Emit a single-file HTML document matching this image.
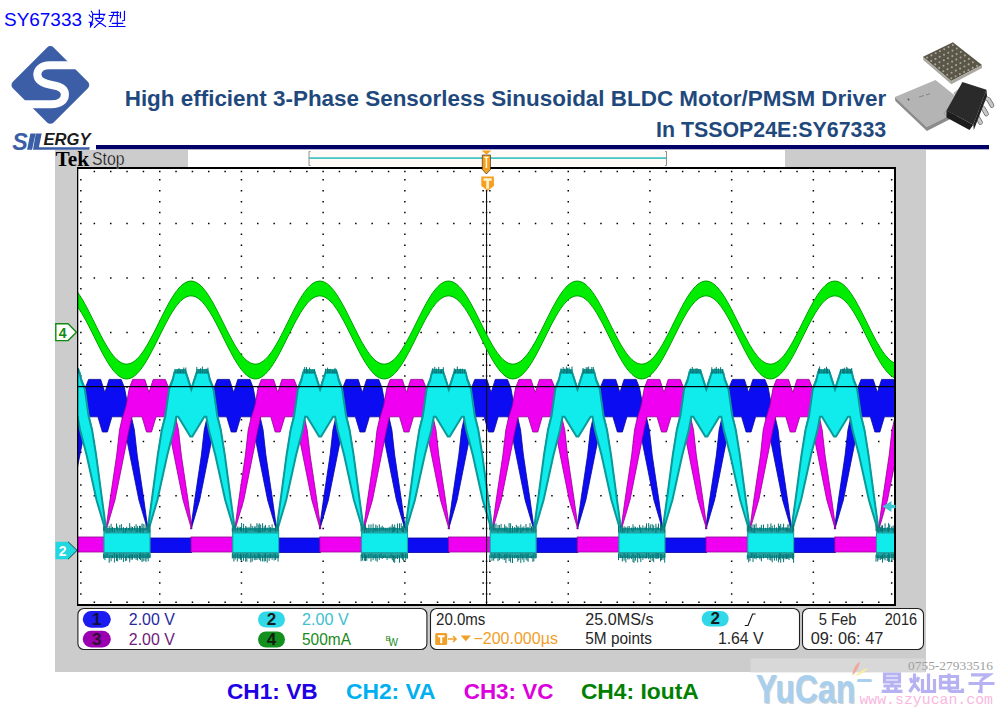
<!DOCTYPE html>
<html><head><meta charset="utf-8">
<style>
html,body{margin:0;padding:0;background:#fff;}
body{width:1003px;height:711px;position:relative;overflow:hidden;}
svg{position:absolute;left:0;top:0;display:block;}
text{font-family:"Liberation Sans",sans-serif;white-space:pre;}
.tk{font-family:"Liberation Sans",sans-serif;font-size:15.5px;}
.ser{font-family:"Liberation Serif",serif;}
.mono{font-family:"Liberation Mono",monospace;}
</style></head><body>
<svg width="1003" height="711" viewBox="0 0 1003 711">
<defs><clipPath id="gc"><rect x="78" y="168" width="817" height="437"/></clipPath></defs>
<!-- header text -->
<text x="4" y="25.8" font-size="18.8" fill="#0000ff" textLength="78" lengthAdjust="spacingAndGlyphs">SY67333</text>
<g transform="translate(85,5) scale(0.04484)" fill="none" stroke="#0000ff" stroke-width="26" stroke-linecap="square"><path d="M140 140L170 185M95 225L140 270M95 385H150M125 385V470L175 420"/><path d="M170 210H440L420 240M320 115V300M170 210V330L120 490M230 300H410L390 330M245 330L460 478M405 320L210 500"/><path d="M590 165H740M540 235H750M650 165L565 370M720 150V330M790 165V280M880 140V340L840 350M610 410H840M720 340V480M540 480H890"/></g>
<!-- logo -->
<g transform="translate(10,44) scale(0.11534)">
  <rect x="100" y="105" width="500" height="500" rx="40" transform="rotate(45 350 355)" fill="#3b5ea6"/>
  <path d="M 640,185 L 345,185 C 270,185 237,225 237,265 C 237,322 292,345 372,358 C 442,370 476,397 476,437 C 476,490 430,522 360,522 L 60,522" fill="none" stroke="#fff" stroke-width="70"/>
</g>
<text x="12.3" y="149.9" font-size="23.5" font-weight="bold" font-style="italic" fill="#3b5ea6" textLength="15.5" lengthAdjust="spacingAndGlyphs">S</text>
<path d="M30.4 133.6h5.2l-3.5 16.2h-5z" fill="#3b5ea6"/>
<path d="M35.8 133.6 L41.7 133.6 L38.9 147.2 L89.8 147.2 L89.3 149.8 L33 149.8 Z" fill="#3b5ea6"/>
<text x="43.5" y="144.9" font-size="15.6" font-weight="bold" font-style="italic" fill="#1a1a1a" textLength="47" lengthAdjust="spacingAndGlyphs">ERGY</text>
<!-- title -->
<text x="124.7" y="105.9" font-size="21.6" font-weight="bold" fill="#1f497d" textLength="761.5" lengthAdjust="spacingAndGlyphs">High efficient 3-Phase Sensorless Sinusoidal BLDC Motor/PMSM Driver</text>
<text x="656" y="136.5" font-size="21.6" font-weight="bold" fill="#1f497d" textLength="230.2" lengthAdjust="spacingAndGlyphs">In TSSOP24E:SY67333</text>
<rect x="96" y="145" width="893" height="4.3" fill="#000066"/>
<path d="M923 56.8L952.9 42.3L982 64.9L951.2 81Z" fill="#5a5648"/><path d="M923 56.8L923.3 60L951.4 84.3L982 68L982 64.9L951.2 81Z" fill="#a8a8a0"/><circle cx="927.1" cy="57.5" r="1.05" fill="#aaa596"/><circle cx="931.2" cy="60.9" r="1.05" fill="#aaa596"/><circle cx="935.2" cy="64.4" r="1.05" fill="#aaa596"/><circle cx="939.2" cy="67.9" r="1.05" fill="#aaa596"/><circle cx="943.3" cy="71.3" r="1.05" fill="#aaa596"/><circle cx="947.3" cy="74.8" r="1.05" fill="#aaa596"/><circle cx="951.3" cy="78.2" r="1.05" fill="#aaa596"/><circle cx="931.4" cy="55.4" r="1.05" fill="#aaa596"/><circle cx="935.5" cy="58.9" r="1.05" fill="#aaa596"/><circle cx="939.5" cy="62.3" r="1.05" fill="#aaa596"/><circle cx="943.5" cy="65.8" r="1.05" fill="#aaa596"/><circle cx="947.5" cy="69.2" r="1.05" fill="#aaa596"/><circle cx="951.6" cy="72.7" r="1.05" fill="#aaa596"/><circle cx="955.6" cy="76.2" r="1.05" fill="#aaa596"/><circle cx="935.7" cy="53.3" r="1.05" fill="#aaa596"/><circle cx="939.7" cy="56.8" r="1.05" fill="#aaa596"/><circle cx="943.8" cy="60.3" r="1.05" fill="#aaa596"/><circle cx="947.8" cy="63.7" r="1.05" fill="#aaa596"/><circle cx="951.8" cy="67.2" r="1.05" fill="#aaa596"/><circle cx="955.8" cy="70.6" r="1.05" fill="#aaa596"/><circle cx="959.9" cy="74.1" r="1.05" fill="#aaa596"/><circle cx="940.0" cy="51.3" r="1.05" fill="#aaa596"/><circle cx="944.0" cy="54.7" r="1.05" fill="#aaa596"/><circle cx="948.0" cy="58.2" r="1.05" fill="#aaa596"/><circle cx="952.1" cy="61.6" r="1.05" fill="#aaa596"/><circle cx="956.1" cy="65.1" r="1.05" fill="#aaa596"/><circle cx="960.1" cy="68.6" r="1.05" fill="#aaa596"/><circle cx="964.1" cy="72.0" r="1.05" fill="#aaa596"/><circle cx="944.2" cy="49.2" r="1.05" fill="#aaa596"/><circle cx="948.3" cy="52.7" r="1.05" fill="#aaa596"/><circle cx="952.3" cy="56.1" r="1.05" fill="#aaa596"/><circle cx="956.3" cy="59.6" r="1.05" fill="#aaa596"/><circle cx="960.4" cy="63.0" r="1.05" fill="#aaa596"/><circle cx="964.4" cy="66.5" r="1.05" fill="#aaa596"/><circle cx="968.4" cy="70.0" r="1.05" fill="#aaa596"/><circle cx="948.5" cy="47.1" r="1.05" fill="#aaa596"/><circle cx="952.5" cy="50.6" r="1.05" fill="#aaa596"/><circle cx="956.6" cy="54.1" r="1.05" fill="#aaa596"/><circle cx="960.6" cy="57.5" r="1.05" fill="#aaa596"/><circle cx="964.6" cy="61.0" r="1.05" fill="#aaa596"/><circle cx="968.6" cy="64.4" r="1.05" fill="#aaa596"/><circle cx="972.7" cy="67.9" r="1.05" fill="#aaa596"/><circle cx="952.8" cy="45.1" r="1.05" fill="#aaa596"/><circle cx="956.8" cy="48.5" r="1.05" fill="#aaa596"/><circle cx="960.8" cy="52.0" r="1.05" fill="#aaa596"/><circle cx="964.9" cy="55.4" r="1.05" fill="#aaa596"/><circle cx="968.9" cy="58.9" r="1.05" fill="#aaa596"/><circle cx="972.9" cy="62.3" r="1.05" fill="#aaa596"/><circle cx="977.0" cy="65.8" r="1.05" fill="#aaa596"/><path d="M894.9 96.9L935.5 79.9L968 106L926.7 127Z" fill="#b4b4b4"/><path d="M894.9 96.9L895.3 101L926.9 131L968 110L968 106L926.7 127Z" fill="#8c8c8c"/><circle cx="908.5" cy="99.5" r="0.9" fill="#555"/><path d="M919 97l5 -1.5M926 95l4 -1.2" stroke="#777" stroke-width="0.8"/><g fill="none" stroke-linecap="round" stroke-linejoin="round"><path d="M982.5 96.5L988.5 99.5L992 105.5M977 105L983 108L986.5 114M971 113.5L977 116.5L980.5 122.5" stroke="#6a6a6a" stroke-width="4.6"/><path d="M982.5 96.5L988.5 99.5L992 105.5M977 105L983 108L986.5 114M971 113.5L977 116.5L980.5 122.5" stroke="#c8c8c8" stroke-width="3.2"/></g><path d="M949 109l-5 4l1.5 2.5l5 -2z M959 89l-5 4l1.5 2.5l5 -2z" fill="#b8b8b8" stroke="#888" stroke-width="0.5"/><path d="M962.4 82L986.5 89.7L973.3 124.8L946.5 110.6Z" fill="#2a2a2a"/><path d="M946.5 110.6L946.5 117.5L969.5 130L973.3 124.8Z" fill="#1c1c1c"/><path d="M986.5 89.7L987 96L973.8 130L973.3 124.8Z" fill="#222"/>
<rect x="55" y="150" width="871" height="522" fill="#cccccc"/>
<rect x="188" y="150" width="597" height="17" fill="#fff"/>
<rect x="77" y="167" width="819" height="439" fill="#fff"/>
<path d="M159.0 179.1h1.5v1.5h-1.5zM159.0 190.0h1.5v1.5h-1.5zM159.0 200.9h1.5v1.5h-1.5zM159.0 211.8h1.5v1.5h-1.5zM159.0 222.7h1.5v1.5h-1.5zM159.0 233.6h1.5v1.5h-1.5zM159.0 244.5h1.5v1.5h-1.5zM159.0 255.4h1.5v1.5h-1.5zM159.0 266.3h1.5v1.5h-1.5zM159.0 277.2h1.5v1.5h-1.5zM159.0 288.1h1.5v1.5h-1.5zM159.0 299.0h1.5v1.5h-1.5zM159.0 309.9h1.5v1.5h-1.5zM159.0 320.8h1.5v1.5h-1.5zM159.0 331.7h1.5v1.5h-1.5zM159.0 342.6h1.5v1.5h-1.5zM159.0 353.5h1.5v1.5h-1.5zM159.0 364.4h1.5v1.5h-1.5zM159.0 375.3h1.5v1.5h-1.5zM159.0 386.2h1.5v1.5h-1.5zM159.0 397.1h1.5v1.5h-1.5zM159.0 408.0h1.5v1.5h-1.5zM159.0 418.9h1.5v1.5h-1.5zM159.0 429.8h1.5v1.5h-1.5zM159.0 440.7h1.5v1.5h-1.5zM159.0 451.5h1.5v1.5h-1.5zM159.0 462.4h1.5v1.5h-1.5zM159.0 473.3h1.5v1.5h-1.5zM159.0 484.2h1.5v1.5h-1.5zM159.0 495.1h1.5v1.5h-1.5zM159.0 506.0h1.5v1.5h-1.5zM159.0 516.9h1.5v1.5h-1.5zM159.0 527.8h1.5v1.5h-1.5zM159.0 538.7h1.5v1.5h-1.5zM159.0 549.6h1.5v1.5h-1.5zM159.0 560.5h1.5v1.5h-1.5zM159.0 571.4h1.5v1.5h-1.5zM159.0 582.3h1.5v1.5h-1.5zM159.0 593.2h1.5v1.5h-1.5zM240.7 179.1h1.5v1.5h-1.5zM240.7 190.0h1.5v1.5h-1.5zM240.7 200.9h1.5v1.5h-1.5zM240.7 211.8h1.5v1.5h-1.5zM240.7 222.7h1.5v1.5h-1.5zM240.7 233.6h1.5v1.5h-1.5zM240.7 244.5h1.5v1.5h-1.5zM240.7 255.4h1.5v1.5h-1.5zM240.7 266.3h1.5v1.5h-1.5zM240.7 277.2h1.5v1.5h-1.5zM240.7 288.1h1.5v1.5h-1.5zM240.7 299.0h1.5v1.5h-1.5zM240.7 309.9h1.5v1.5h-1.5zM240.7 320.8h1.5v1.5h-1.5zM240.7 331.7h1.5v1.5h-1.5zM240.7 342.6h1.5v1.5h-1.5zM240.7 353.5h1.5v1.5h-1.5zM240.7 364.4h1.5v1.5h-1.5zM240.7 375.3h1.5v1.5h-1.5zM240.7 386.2h1.5v1.5h-1.5zM240.7 397.1h1.5v1.5h-1.5zM240.7 408.0h1.5v1.5h-1.5zM240.7 418.9h1.5v1.5h-1.5zM240.7 429.8h1.5v1.5h-1.5zM240.7 440.7h1.5v1.5h-1.5zM240.7 451.5h1.5v1.5h-1.5zM240.7 462.4h1.5v1.5h-1.5zM240.7 473.3h1.5v1.5h-1.5zM240.7 484.2h1.5v1.5h-1.5zM240.7 495.1h1.5v1.5h-1.5zM240.7 506.0h1.5v1.5h-1.5zM240.7 516.9h1.5v1.5h-1.5zM240.7 527.8h1.5v1.5h-1.5zM240.7 538.7h1.5v1.5h-1.5zM240.7 549.6h1.5v1.5h-1.5zM240.7 560.5h1.5v1.5h-1.5zM240.7 571.4h1.5v1.5h-1.5zM240.7 582.3h1.5v1.5h-1.5zM240.7 593.2h1.5v1.5h-1.5zM322.4 179.1h1.5v1.5h-1.5zM322.4 190.0h1.5v1.5h-1.5zM322.4 200.9h1.5v1.5h-1.5zM322.4 211.8h1.5v1.5h-1.5zM322.4 222.7h1.5v1.5h-1.5zM322.4 233.6h1.5v1.5h-1.5zM322.4 244.5h1.5v1.5h-1.5zM322.4 255.4h1.5v1.5h-1.5zM322.4 266.3h1.5v1.5h-1.5zM322.4 277.2h1.5v1.5h-1.5zM322.4 288.1h1.5v1.5h-1.5zM322.4 299.0h1.5v1.5h-1.5zM322.4 309.9h1.5v1.5h-1.5zM322.4 320.8h1.5v1.5h-1.5zM322.4 331.7h1.5v1.5h-1.5zM322.4 342.6h1.5v1.5h-1.5zM322.4 353.5h1.5v1.5h-1.5zM322.4 364.4h1.5v1.5h-1.5zM322.4 375.3h1.5v1.5h-1.5zM322.4 386.2h1.5v1.5h-1.5zM322.4 397.1h1.5v1.5h-1.5zM322.4 408.0h1.5v1.5h-1.5zM322.4 418.9h1.5v1.5h-1.5zM322.4 429.8h1.5v1.5h-1.5zM322.4 440.7h1.5v1.5h-1.5zM322.4 451.5h1.5v1.5h-1.5zM322.4 462.4h1.5v1.5h-1.5zM322.4 473.3h1.5v1.5h-1.5zM322.4 484.2h1.5v1.5h-1.5zM322.4 495.1h1.5v1.5h-1.5zM322.4 506.0h1.5v1.5h-1.5zM322.4 516.9h1.5v1.5h-1.5zM322.4 527.8h1.5v1.5h-1.5zM322.4 538.7h1.5v1.5h-1.5zM322.4 549.6h1.5v1.5h-1.5zM322.4 560.5h1.5v1.5h-1.5zM322.4 571.4h1.5v1.5h-1.5zM322.4 582.3h1.5v1.5h-1.5zM322.4 593.2h1.5v1.5h-1.5zM404.1 179.1h1.5v1.5h-1.5zM404.1 190.0h1.5v1.5h-1.5zM404.1 200.9h1.5v1.5h-1.5zM404.1 211.8h1.5v1.5h-1.5zM404.1 222.7h1.5v1.5h-1.5zM404.1 233.6h1.5v1.5h-1.5zM404.1 244.5h1.5v1.5h-1.5zM404.1 255.4h1.5v1.5h-1.5zM404.1 266.3h1.5v1.5h-1.5zM404.1 277.2h1.5v1.5h-1.5zM404.1 288.1h1.5v1.5h-1.5zM404.1 299.0h1.5v1.5h-1.5zM404.1 309.9h1.5v1.5h-1.5zM404.1 320.8h1.5v1.5h-1.5zM404.1 331.7h1.5v1.5h-1.5zM404.1 342.6h1.5v1.5h-1.5zM404.1 353.5h1.5v1.5h-1.5zM404.1 364.4h1.5v1.5h-1.5zM404.1 375.3h1.5v1.5h-1.5zM404.1 386.2h1.5v1.5h-1.5zM404.1 397.1h1.5v1.5h-1.5zM404.1 408.0h1.5v1.5h-1.5zM404.1 418.9h1.5v1.5h-1.5zM404.1 429.8h1.5v1.5h-1.5zM404.1 440.7h1.5v1.5h-1.5zM404.1 451.5h1.5v1.5h-1.5zM404.1 462.4h1.5v1.5h-1.5zM404.1 473.3h1.5v1.5h-1.5zM404.1 484.2h1.5v1.5h-1.5zM404.1 495.1h1.5v1.5h-1.5zM404.1 506.0h1.5v1.5h-1.5zM404.1 516.9h1.5v1.5h-1.5zM404.1 527.8h1.5v1.5h-1.5zM404.1 538.7h1.5v1.5h-1.5zM404.1 549.6h1.5v1.5h-1.5zM404.1 560.5h1.5v1.5h-1.5zM404.1 571.4h1.5v1.5h-1.5zM404.1 582.3h1.5v1.5h-1.5zM404.1 593.2h1.5v1.5h-1.5zM485.8 179.1h1.5v1.5h-1.5zM485.8 190.0h1.5v1.5h-1.5zM485.8 200.9h1.5v1.5h-1.5zM485.8 211.8h1.5v1.5h-1.5zM485.8 222.7h1.5v1.5h-1.5zM485.8 233.6h1.5v1.5h-1.5zM485.8 244.5h1.5v1.5h-1.5zM485.8 255.4h1.5v1.5h-1.5zM485.8 266.3h1.5v1.5h-1.5zM485.8 277.2h1.5v1.5h-1.5zM485.8 288.1h1.5v1.5h-1.5zM485.8 299.0h1.5v1.5h-1.5zM485.8 309.9h1.5v1.5h-1.5zM485.8 320.8h1.5v1.5h-1.5zM485.8 331.7h1.5v1.5h-1.5zM485.8 342.6h1.5v1.5h-1.5zM485.8 353.5h1.5v1.5h-1.5zM485.8 364.4h1.5v1.5h-1.5zM485.8 375.3h1.5v1.5h-1.5zM485.8 386.2h1.5v1.5h-1.5zM485.8 397.1h1.5v1.5h-1.5zM485.8 408.0h1.5v1.5h-1.5zM485.8 418.9h1.5v1.5h-1.5zM485.8 429.8h1.5v1.5h-1.5zM485.8 440.7h1.5v1.5h-1.5zM485.8 451.5h1.5v1.5h-1.5zM485.8 462.4h1.5v1.5h-1.5zM485.8 473.3h1.5v1.5h-1.5zM485.8 484.2h1.5v1.5h-1.5zM485.8 495.1h1.5v1.5h-1.5zM485.8 506.0h1.5v1.5h-1.5zM485.8 516.9h1.5v1.5h-1.5zM485.8 527.8h1.5v1.5h-1.5zM485.8 538.7h1.5v1.5h-1.5zM485.8 549.6h1.5v1.5h-1.5zM485.8 560.5h1.5v1.5h-1.5zM485.8 571.4h1.5v1.5h-1.5zM485.8 582.3h1.5v1.5h-1.5zM485.8 593.2h1.5v1.5h-1.5zM567.5 179.1h1.5v1.5h-1.5zM567.5 190.0h1.5v1.5h-1.5zM567.5 200.9h1.5v1.5h-1.5zM567.5 211.8h1.5v1.5h-1.5zM567.5 222.7h1.5v1.5h-1.5zM567.5 233.6h1.5v1.5h-1.5zM567.5 244.5h1.5v1.5h-1.5zM567.5 255.4h1.5v1.5h-1.5zM567.5 266.3h1.5v1.5h-1.5zM567.5 277.2h1.5v1.5h-1.5zM567.5 288.1h1.5v1.5h-1.5zM567.5 299.0h1.5v1.5h-1.5zM567.5 309.9h1.5v1.5h-1.5zM567.5 320.8h1.5v1.5h-1.5zM567.5 331.7h1.5v1.5h-1.5zM567.5 342.6h1.5v1.5h-1.5zM567.5 353.5h1.5v1.5h-1.5zM567.5 364.4h1.5v1.5h-1.5zM567.5 375.3h1.5v1.5h-1.5zM567.5 386.2h1.5v1.5h-1.5zM567.5 397.1h1.5v1.5h-1.5zM567.5 408.0h1.5v1.5h-1.5zM567.5 418.9h1.5v1.5h-1.5zM567.5 429.8h1.5v1.5h-1.5zM567.5 440.7h1.5v1.5h-1.5zM567.5 451.5h1.5v1.5h-1.5zM567.5 462.4h1.5v1.5h-1.5zM567.5 473.3h1.5v1.5h-1.5zM567.5 484.2h1.5v1.5h-1.5zM567.5 495.1h1.5v1.5h-1.5zM567.5 506.0h1.5v1.5h-1.5zM567.5 516.9h1.5v1.5h-1.5zM567.5 527.8h1.5v1.5h-1.5zM567.5 538.7h1.5v1.5h-1.5zM567.5 549.6h1.5v1.5h-1.5zM567.5 560.5h1.5v1.5h-1.5zM567.5 571.4h1.5v1.5h-1.5zM567.5 582.3h1.5v1.5h-1.5zM567.5 593.2h1.5v1.5h-1.5zM649.2 179.1h1.5v1.5h-1.5zM649.2 190.0h1.5v1.5h-1.5zM649.2 200.9h1.5v1.5h-1.5zM649.2 211.8h1.5v1.5h-1.5zM649.2 222.7h1.5v1.5h-1.5zM649.2 233.6h1.5v1.5h-1.5zM649.2 244.5h1.5v1.5h-1.5zM649.2 255.4h1.5v1.5h-1.5zM649.2 266.3h1.5v1.5h-1.5zM649.2 277.2h1.5v1.5h-1.5zM649.2 288.1h1.5v1.5h-1.5zM649.2 299.0h1.5v1.5h-1.5zM649.2 309.9h1.5v1.5h-1.5zM649.2 320.8h1.5v1.5h-1.5zM649.2 331.7h1.5v1.5h-1.5zM649.2 342.6h1.5v1.5h-1.5zM649.2 353.5h1.5v1.5h-1.5zM649.2 364.4h1.5v1.5h-1.5zM649.2 375.3h1.5v1.5h-1.5zM649.2 386.2h1.5v1.5h-1.5zM649.2 397.1h1.5v1.5h-1.5zM649.2 408.0h1.5v1.5h-1.5zM649.2 418.9h1.5v1.5h-1.5zM649.2 429.8h1.5v1.5h-1.5zM649.2 440.7h1.5v1.5h-1.5zM649.2 451.5h1.5v1.5h-1.5zM649.2 462.4h1.5v1.5h-1.5zM649.2 473.3h1.5v1.5h-1.5zM649.2 484.2h1.5v1.5h-1.5zM649.2 495.1h1.5v1.5h-1.5zM649.2 506.0h1.5v1.5h-1.5zM649.2 516.9h1.5v1.5h-1.5zM649.2 527.8h1.5v1.5h-1.5zM649.2 538.7h1.5v1.5h-1.5zM649.2 549.6h1.5v1.5h-1.5zM649.2 560.5h1.5v1.5h-1.5zM649.2 571.4h1.5v1.5h-1.5zM649.2 582.3h1.5v1.5h-1.5zM649.2 593.2h1.5v1.5h-1.5zM730.9 179.1h1.5v1.5h-1.5zM730.9 190.0h1.5v1.5h-1.5zM730.9 200.9h1.5v1.5h-1.5zM730.9 211.8h1.5v1.5h-1.5zM730.9 222.7h1.5v1.5h-1.5zM730.9 233.6h1.5v1.5h-1.5zM730.9 244.5h1.5v1.5h-1.5zM730.9 255.4h1.5v1.5h-1.5zM730.9 266.3h1.5v1.5h-1.5zM730.9 277.2h1.5v1.5h-1.5zM730.9 288.1h1.5v1.5h-1.5zM730.9 299.0h1.5v1.5h-1.5zM730.9 309.9h1.5v1.5h-1.5zM730.9 320.8h1.5v1.5h-1.5zM730.9 331.7h1.5v1.5h-1.5zM730.9 342.6h1.5v1.5h-1.5zM730.9 353.5h1.5v1.5h-1.5zM730.9 364.4h1.5v1.5h-1.5zM730.9 375.3h1.5v1.5h-1.5zM730.9 386.2h1.5v1.5h-1.5zM730.9 397.1h1.5v1.5h-1.5zM730.9 408.0h1.5v1.5h-1.5zM730.9 418.9h1.5v1.5h-1.5zM730.9 429.8h1.5v1.5h-1.5zM730.9 440.7h1.5v1.5h-1.5zM730.9 451.5h1.5v1.5h-1.5zM730.9 462.4h1.5v1.5h-1.5zM730.9 473.3h1.5v1.5h-1.5zM730.9 484.2h1.5v1.5h-1.5zM730.9 495.1h1.5v1.5h-1.5zM730.9 506.0h1.5v1.5h-1.5zM730.9 516.9h1.5v1.5h-1.5zM730.9 527.8h1.5v1.5h-1.5zM730.9 538.7h1.5v1.5h-1.5zM730.9 549.6h1.5v1.5h-1.5zM730.9 560.5h1.5v1.5h-1.5zM730.9 571.4h1.5v1.5h-1.5zM730.9 582.3h1.5v1.5h-1.5zM730.9 593.2h1.5v1.5h-1.5zM812.6 179.1h1.5v1.5h-1.5zM812.6 190.0h1.5v1.5h-1.5zM812.6 200.9h1.5v1.5h-1.5zM812.6 211.8h1.5v1.5h-1.5zM812.6 222.7h1.5v1.5h-1.5zM812.6 233.6h1.5v1.5h-1.5zM812.6 244.5h1.5v1.5h-1.5zM812.6 255.4h1.5v1.5h-1.5zM812.6 266.3h1.5v1.5h-1.5zM812.6 277.2h1.5v1.5h-1.5zM812.6 288.1h1.5v1.5h-1.5zM812.6 299.0h1.5v1.5h-1.5zM812.6 309.9h1.5v1.5h-1.5zM812.6 320.8h1.5v1.5h-1.5zM812.6 331.7h1.5v1.5h-1.5zM812.6 342.6h1.5v1.5h-1.5zM812.6 353.5h1.5v1.5h-1.5zM812.6 364.4h1.5v1.5h-1.5zM812.6 375.3h1.5v1.5h-1.5zM812.6 386.2h1.5v1.5h-1.5zM812.6 397.1h1.5v1.5h-1.5zM812.6 408.0h1.5v1.5h-1.5zM812.6 418.9h1.5v1.5h-1.5zM812.6 429.8h1.5v1.5h-1.5zM812.6 440.7h1.5v1.5h-1.5zM812.6 451.5h1.5v1.5h-1.5zM812.6 462.4h1.5v1.5h-1.5zM812.6 473.3h1.5v1.5h-1.5zM812.6 484.2h1.5v1.5h-1.5zM812.6 495.1h1.5v1.5h-1.5zM812.6 506.0h1.5v1.5h-1.5zM812.6 516.9h1.5v1.5h-1.5zM812.6 527.8h1.5v1.5h-1.5zM812.6 538.7h1.5v1.5h-1.5zM812.6 549.6h1.5v1.5h-1.5zM812.6 560.5h1.5v1.5h-1.5zM812.6 571.4h1.5v1.5h-1.5zM812.6 582.3h1.5v1.5h-1.5zM812.6 593.2h1.5v1.5h-1.5zM93.6 222.7h1.5v1.5h-1.5zM110.0 222.7h1.5v1.5h-1.5zM126.3 222.7h1.5v1.5h-1.5zM142.7 222.7h1.5v1.5h-1.5zM159.0 222.7h1.5v1.5h-1.5zM175.3 222.7h1.5v1.5h-1.5zM191.7 222.7h1.5v1.5h-1.5zM208.0 222.7h1.5v1.5h-1.5zM224.4 222.7h1.5v1.5h-1.5zM240.7 222.7h1.5v1.5h-1.5zM257.0 222.7h1.5v1.5h-1.5zM273.4 222.7h1.5v1.5h-1.5zM289.7 222.7h1.5v1.5h-1.5zM306.1 222.7h1.5v1.5h-1.5zM322.4 222.7h1.5v1.5h-1.5zM338.7 222.7h1.5v1.5h-1.5zM355.1 222.7h1.5v1.5h-1.5zM371.4 222.7h1.5v1.5h-1.5zM387.8 222.7h1.5v1.5h-1.5zM404.1 222.7h1.5v1.5h-1.5zM420.4 222.7h1.5v1.5h-1.5zM436.8 222.7h1.5v1.5h-1.5zM453.1 222.7h1.5v1.5h-1.5zM469.5 222.7h1.5v1.5h-1.5zM485.8 222.7h1.5v1.5h-1.5zM502.1 222.7h1.5v1.5h-1.5zM518.5 222.7h1.5v1.5h-1.5zM534.8 222.7h1.5v1.5h-1.5zM551.2 222.7h1.5v1.5h-1.5zM567.5 222.7h1.5v1.5h-1.5zM583.8 222.7h1.5v1.5h-1.5zM600.2 222.7h1.5v1.5h-1.5zM616.5 222.7h1.5v1.5h-1.5zM632.9 222.7h1.5v1.5h-1.5zM649.2 222.7h1.5v1.5h-1.5zM665.5 222.7h1.5v1.5h-1.5zM681.9 222.7h1.5v1.5h-1.5zM698.2 222.7h1.5v1.5h-1.5zM714.6 222.7h1.5v1.5h-1.5zM730.9 222.7h1.5v1.5h-1.5zM747.2 222.7h1.5v1.5h-1.5zM763.6 222.7h1.5v1.5h-1.5zM779.9 222.7h1.5v1.5h-1.5zM796.3 222.7h1.5v1.5h-1.5zM812.6 222.7h1.5v1.5h-1.5zM828.9 222.7h1.5v1.5h-1.5zM845.3 222.7h1.5v1.5h-1.5zM861.6 222.7h1.5v1.5h-1.5zM878.0 222.7h1.5v1.5h-1.5zM93.6 277.2h1.5v1.5h-1.5zM110.0 277.2h1.5v1.5h-1.5zM126.3 277.2h1.5v1.5h-1.5zM142.7 277.2h1.5v1.5h-1.5zM159.0 277.2h1.5v1.5h-1.5zM175.3 277.2h1.5v1.5h-1.5zM191.7 277.2h1.5v1.5h-1.5zM208.0 277.2h1.5v1.5h-1.5zM224.4 277.2h1.5v1.5h-1.5zM240.7 277.2h1.5v1.5h-1.5zM257.0 277.2h1.5v1.5h-1.5zM273.4 277.2h1.5v1.5h-1.5zM289.7 277.2h1.5v1.5h-1.5zM306.1 277.2h1.5v1.5h-1.5zM322.4 277.2h1.5v1.5h-1.5zM338.7 277.2h1.5v1.5h-1.5zM355.1 277.2h1.5v1.5h-1.5zM371.4 277.2h1.5v1.5h-1.5zM387.8 277.2h1.5v1.5h-1.5zM404.1 277.2h1.5v1.5h-1.5zM420.4 277.2h1.5v1.5h-1.5zM436.8 277.2h1.5v1.5h-1.5zM453.1 277.2h1.5v1.5h-1.5zM469.5 277.2h1.5v1.5h-1.5zM485.8 277.2h1.5v1.5h-1.5zM502.1 277.2h1.5v1.5h-1.5zM518.5 277.2h1.5v1.5h-1.5zM534.8 277.2h1.5v1.5h-1.5zM551.2 277.2h1.5v1.5h-1.5zM567.5 277.2h1.5v1.5h-1.5zM583.8 277.2h1.5v1.5h-1.5zM600.2 277.2h1.5v1.5h-1.5zM616.5 277.2h1.5v1.5h-1.5zM632.9 277.2h1.5v1.5h-1.5zM649.2 277.2h1.5v1.5h-1.5zM665.5 277.2h1.5v1.5h-1.5zM681.9 277.2h1.5v1.5h-1.5zM698.2 277.2h1.5v1.5h-1.5zM714.6 277.2h1.5v1.5h-1.5zM730.9 277.2h1.5v1.5h-1.5zM747.2 277.2h1.5v1.5h-1.5zM763.6 277.2h1.5v1.5h-1.5zM779.9 277.2h1.5v1.5h-1.5zM796.3 277.2h1.5v1.5h-1.5zM812.6 277.2h1.5v1.5h-1.5zM828.9 277.2h1.5v1.5h-1.5zM845.3 277.2h1.5v1.5h-1.5zM861.6 277.2h1.5v1.5h-1.5zM878.0 277.2h1.5v1.5h-1.5zM93.6 331.7h1.5v1.5h-1.5zM110.0 331.7h1.5v1.5h-1.5zM126.3 331.7h1.5v1.5h-1.5zM142.7 331.7h1.5v1.5h-1.5zM159.0 331.7h1.5v1.5h-1.5zM175.3 331.7h1.5v1.5h-1.5zM191.7 331.7h1.5v1.5h-1.5zM208.0 331.7h1.5v1.5h-1.5zM224.4 331.7h1.5v1.5h-1.5zM240.7 331.7h1.5v1.5h-1.5zM257.0 331.7h1.5v1.5h-1.5zM273.4 331.7h1.5v1.5h-1.5zM289.7 331.7h1.5v1.5h-1.5zM306.1 331.7h1.5v1.5h-1.5zM322.4 331.7h1.5v1.5h-1.5zM338.7 331.7h1.5v1.5h-1.5zM355.1 331.7h1.5v1.5h-1.5zM371.4 331.7h1.5v1.5h-1.5zM387.8 331.7h1.5v1.5h-1.5zM404.1 331.7h1.5v1.5h-1.5zM420.4 331.7h1.5v1.5h-1.5zM436.8 331.7h1.5v1.5h-1.5zM453.1 331.7h1.5v1.5h-1.5zM469.5 331.7h1.5v1.5h-1.5zM485.8 331.7h1.5v1.5h-1.5zM502.1 331.7h1.5v1.5h-1.5zM518.5 331.7h1.5v1.5h-1.5zM534.8 331.7h1.5v1.5h-1.5zM551.2 331.7h1.5v1.5h-1.5zM567.5 331.7h1.5v1.5h-1.5zM583.8 331.7h1.5v1.5h-1.5zM600.2 331.7h1.5v1.5h-1.5zM616.5 331.7h1.5v1.5h-1.5zM632.9 331.7h1.5v1.5h-1.5zM649.2 331.7h1.5v1.5h-1.5zM665.5 331.7h1.5v1.5h-1.5zM681.9 331.7h1.5v1.5h-1.5zM698.2 331.7h1.5v1.5h-1.5zM714.6 331.7h1.5v1.5h-1.5zM730.9 331.7h1.5v1.5h-1.5zM747.2 331.7h1.5v1.5h-1.5zM763.6 331.7h1.5v1.5h-1.5zM779.9 331.7h1.5v1.5h-1.5zM796.3 331.7h1.5v1.5h-1.5zM812.6 331.7h1.5v1.5h-1.5zM828.9 331.7h1.5v1.5h-1.5zM845.3 331.7h1.5v1.5h-1.5zM861.6 331.7h1.5v1.5h-1.5zM878.0 331.7h1.5v1.5h-1.5zM93.6 386.2h1.5v1.5h-1.5zM110.0 386.2h1.5v1.5h-1.5zM126.3 386.2h1.5v1.5h-1.5zM142.7 386.2h1.5v1.5h-1.5zM159.0 386.2h1.5v1.5h-1.5zM175.3 386.2h1.5v1.5h-1.5zM191.7 386.2h1.5v1.5h-1.5zM208.0 386.2h1.5v1.5h-1.5zM224.4 386.2h1.5v1.5h-1.5zM240.7 386.2h1.5v1.5h-1.5zM257.0 386.2h1.5v1.5h-1.5zM273.4 386.2h1.5v1.5h-1.5zM289.7 386.2h1.5v1.5h-1.5zM306.1 386.2h1.5v1.5h-1.5zM322.4 386.2h1.5v1.5h-1.5zM338.7 386.2h1.5v1.5h-1.5zM355.1 386.2h1.5v1.5h-1.5zM371.4 386.2h1.5v1.5h-1.5zM387.8 386.2h1.5v1.5h-1.5zM404.1 386.2h1.5v1.5h-1.5zM420.4 386.2h1.5v1.5h-1.5zM436.8 386.2h1.5v1.5h-1.5zM453.1 386.2h1.5v1.5h-1.5zM469.5 386.2h1.5v1.5h-1.5zM485.8 386.2h1.5v1.5h-1.5zM502.1 386.2h1.5v1.5h-1.5zM518.5 386.2h1.5v1.5h-1.5zM534.8 386.2h1.5v1.5h-1.5zM551.2 386.2h1.5v1.5h-1.5zM567.5 386.2h1.5v1.5h-1.5zM583.8 386.2h1.5v1.5h-1.5zM600.2 386.2h1.5v1.5h-1.5zM616.5 386.2h1.5v1.5h-1.5zM632.9 386.2h1.5v1.5h-1.5zM649.2 386.2h1.5v1.5h-1.5zM665.5 386.2h1.5v1.5h-1.5zM681.9 386.2h1.5v1.5h-1.5zM698.2 386.2h1.5v1.5h-1.5zM714.6 386.2h1.5v1.5h-1.5zM730.9 386.2h1.5v1.5h-1.5zM747.2 386.2h1.5v1.5h-1.5zM763.6 386.2h1.5v1.5h-1.5zM779.9 386.2h1.5v1.5h-1.5zM796.3 386.2h1.5v1.5h-1.5zM812.6 386.2h1.5v1.5h-1.5zM828.9 386.2h1.5v1.5h-1.5zM845.3 386.2h1.5v1.5h-1.5zM861.6 386.2h1.5v1.5h-1.5zM878.0 386.2h1.5v1.5h-1.5zM93.6 440.7h1.5v1.5h-1.5zM110.0 440.7h1.5v1.5h-1.5zM126.3 440.7h1.5v1.5h-1.5zM142.7 440.7h1.5v1.5h-1.5zM159.0 440.7h1.5v1.5h-1.5zM175.3 440.7h1.5v1.5h-1.5zM191.7 440.7h1.5v1.5h-1.5zM208.0 440.7h1.5v1.5h-1.5zM224.4 440.7h1.5v1.5h-1.5zM240.7 440.7h1.5v1.5h-1.5zM257.0 440.7h1.5v1.5h-1.5zM273.4 440.7h1.5v1.5h-1.5zM289.7 440.7h1.5v1.5h-1.5zM306.1 440.7h1.5v1.5h-1.5zM322.4 440.7h1.5v1.5h-1.5zM338.7 440.7h1.5v1.5h-1.5zM355.1 440.7h1.5v1.5h-1.5zM371.4 440.7h1.5v1.5h-1.5zM387.8 440.7h1.5v1.5h-1.5zM404.1 440.7h1.5v1.5h-1.5zM420.4 440.7h1.5v1.5h-1.5zM436.8 440.7h1.5v1.5h-1.5zM453.1 440.7h1.5v1.5h-1.5zM469.5 440.7h1.5v1.5h-1.5zM485.8 440.7h1.5v1.5h-1.5zM502.1 440.7h1.5v1.5h-1.5zM518.5 440.7h1.5v1.5h-1.5zM534.8 440.7h1.5v1.5h-1.5zM551.2 440.7h1.5v1.5h-1.5zM567.5 440.7h1.5v1.5h-1.5zM583.8 440.7h1.5v1.5h-1.5zM600.2 440.7h1.5v1.5h-1.5zM616.5 440.7h1.5v1.5h-1.5zM632.9 440.7h1.5v1.5h-1.5zM649.2 440.7h1.5v1.5h-1.5zM665.5 440.7h1.5v1.5h-1.5zM681.9 440.7h1.5v1.5h-1.5zM698.2 440.7h1.5v1.5h-1.5zM714.6 440.7h1.5v1.5h-1.5zM730.9 440.7h1.5v1.5h-1.5zM747.2 440.7h1.5v1.5h-1.5zM763.6 440.7h1.5v1.5h-1.5zM779.9 440.7h1.5v1.5h-1.5zM796.3 440.7h1.5v1.5h-1.5zM812.6 440.7h1.5v1.5h-1.5zM828.9 440.7h1.5v1.5h-1.5zM845.3 440.7h1.5v1.5h-1.5zM861.6 440.7h1.5v1.5h-1.5zM878.0 440.7h1.5v1.5h-1.5zM93.6 495.1h1.5v1.5h-1.5zM110.0 495.1h1.5v1.5h-1.5zM126.3 495.1h1.5v1.5h-1.5zM142.7 495.1h1.5v1.5h-1.5zM159.0 495.1h1.5v1.5h-1.5zM175.3 495.1h1.5v1.5h-1.5zM191.7 495.1h1.5v1.5h-1.5zM208.0 495.1h1.5v1.5h-1.5zM224.4 495.1h1.5v1.5h-1.5zM240.7 495.1h1.5v1.5h-1.5zM257.0 495.1h1.5v1.5h-1.5zM273.4 495.1h1.5v1.5h-1.5zM289.7 495.1h1.5v1.5h-1.5zM306.1 495.1h1.5v1.5h-1.5zM322.4 495.1h1.5v1.5h-1.5zM338.7 495.1h1.5v1.5h-1.5zM355.1 495.1h1.5v1.5h-1.5zM371.4 495.1h1.5v1.5h-1.5zM387.8 495.1h1.5v1.5h-1.5zM404.1 495.1h1.5v1.5h-1.5zM420.4 495.1h1.5v1.5h-1.5zM436.8 495.1h1.5v1.5h-1.5zM453.1 495.1h1.5v1.5h-1.5zM469.5 495.1h1.5v1.5h-1.5zM485.8 495.1h1.5v1.5h-1.5zM502.1 495.1h1.5v1.5h-1.5zM518.5 495.1h1.5v1.5h-1.5zM534.8 495.1h1.5v1.5h-1.5zM551.2 495.1h1.5v1.5h-1.5zM567.5 495.1h1.5v1.5h-1.5zM583.8 495.1h1.5v1.5h-1.5zM600.2 495.1h1.5v1.5h-1.5zM616.5 495.1h1.5v1.5h-1.5zM632.9 495.1h1.5v1.5h-1.5zM649.2 495.1h1.5v1.5h-1.5zM665.5 495.1h1.5v1.5h-1.5zM681.9 495.1h1.5v1.5h-1.5zM698.2 495.1h1.5v1.5h-1.5zM714.6 495.1h1.5v1.5h-1.5zM730.9 495.1h1.5v1.5h-1.5zM747.2 495.1h1.5v1.5h-1.5zM763.6 495.1h1.5v1.5h-1.5zM779.9 495.1h1.5v1.5h-1.5zM796.3 495.1h1.5v1.5h-1.5zM812.6 495.1h1.5v1.5h-1.5zM828.9 495.1h1.5v1.5h-1.5zM845.3 495.1h1.5v1.5h-1.5zM861.6 495.1h1.5v1.5h-1.5zM878.0 495.1h1.5v1.5h-1.5zM93.6 549.6h1.5v1.5h-1.5zM110.0 549.6h1.5v1.5h-1.5zM126.3 549.6h1.5v1.5h-1.5zM142.7 549.6h1.5v1.5h-1.5zM159.0 549.6h1.5v1.5h-1.5zM175.3 549.6h1.5v1.5h-1.5zM191.7 549.6h1.5v1.5h-1.5zM208.0 549.6h1.5v1.5h-1.5zM224.4 549.6h1.5v1.5h-1.5zM240.7 549.6h1.5v1.5h-1.5zM257.0 549.6h1.5v1.5h-1.5zM273.4 549.6h1.5v1.5h-1.5zM289.7 549.6h1.5v1.5h-1.5zM306.1 549.6h1.5v1.5h-1.5zM322.4 549.6h1.5v1.5h-1.5zM338.7 549.6h1.5v1.5h-1.5zM355.1 549.6h1.5v1.5h-1.5zM371.4 549.6h1.5v1.5h-1.5zM387.8 549.6h1.5v1.5h-1.5zM404.1 549.6h1.5v1.5h-1.5zM420.4 549.6h1.5v1.5h-1.5zM436.8 549.6h1.5v1.5h-1.5zM453.1 549.6h1.5v1.5h-1.5zM469.5 549.6h1.5v1.5h-1.5zM485.8 549.6h1.5v1.5h-1.5zM502.1 549.6h1.5v1.5h-1.5zM518.5 549.6h1.5v1.5h-1.5zM534.8 549.6h1.5v1.5h-1.5zM551.2 549.6h1.5v1.5h-1.5zM567.5 549.6h1.5v1.5h-1.5zM583.8 549.6h1.5v1.5h-1.5zM600.2 549.6h1.5v1.5h-1.5zM616.5 549.6h1.5v1.5h-1.5zM632.9 549.6h1.5v1.5h-1.5zM649.2 549.6h1.5v1.5h-1.5zM665.5 549.6h1.5v1.5h-1.5zM681.9 549.6h1.5v1.5h-1.5zM698.2 549.6h1.5v1.5h-1.5zM714.6 549.6h1.5v1.5h-1.5zM730.9 549.6h1.5v1.5h-1.5zM747.2 549.6h1.5v1.5h-1.5zM763.6 549.6h1.5v1.5h-1.5zM779.9 549.6h1.5v1.5h-1.5zM796.3 549.6h1.5v1.5h-1.5zM812.6 549.6h1.5v1.5h-1.5zM828.9 549.6h1.5v1.5h-1.5zM845.3 549.6h1.5v1.5h-1.5zM861.6 549.6h1.5v1.5h-1.5zM878.0 549.6h1.5v1.5h-1.5zM93.6 170.8h1.5v1.5h-1.5zM93.6 601.5h1.5v1.5h-1.5zM110.0 170.8h1.5v1.5h-1.5zM110.0 601.5h1.5v1.5h-1.5zM126.3 170.8h1.5v1.5h-1.5zM126.3 601.5h1.5v1.5h-1.5zM142.7 170.8h1.5v1.5h-1.5zM142.7 601.5h1.5v1.5h-1.5zM159.0 170.8h1.5v1.5h-1.5zM159.0 601.5h1.5v1.5h-1.5zM175.3 170.8h1.5v1.5h-1.5zM175.3 601.5h1.5v1.5h-1.5zM191.7 170.8h1.5v1.5h-1.5zM191.7 601.5h1.5v1.5h-1.5zM208.0 170.8h1.5v1.5h-1.5zM208.0 601.5h1.5v1.5h-1.5zM224.4 170.8h1.5v1.5h-1.5zM224.4 601.5h1.5v1.5h-1.5zM240.7 170.8h1.5v1.5h-1.5zM240.7 601.5h1.5v1.5h-1.5zM257.0 170.8h1.5v1.5h-1.5zM257.0 601.5h1.5v1.5h-1.5zM273.4 170.8h1.5v1.5h-1.5zM273.4 601.5h1.5v1.5h-1.5zM289.7 170.8h1.5v1.5h-1.5zM289.7 601.5h1.5v1.5h-1.5zM306.1 170.8h1.5v1.5h-1.5zM306.1 601.5h1.5v1.5h-1.5zM322.4 170.8h1.5v1.5h-1.5zM322.4 601.5h1.5v1.5h-1.5zM338.7 170.8h1.5v1.5h-1.5zM338.7 601.5h1.5v1.5h-1.5zM355.1 170.8h1.5v1.5h-1.5zM355.1 601.5h1.5v1.5h-1.5zM371.4 170.8h1.5v1.5h-1.5zM371.4 601.5h1.5v1.5h-1.5zM387.8 170.8h1.5v1.5h-1.5zM387.8 601.5h1.5v1.5h-1.5zM404.1 170.8h1.5v1.5h-1.5zM404.1 601.5h1.5v1.5h-1.5zM420.4 170.8h1.5v1.5h-1.5zM420.4 601.5h1.5v1.5h-1.5zM436.8 170.8h1.5v1.5h-1.5zM436.8 601.5h1.5v1.5h-1.5zM453.1 170.8h1.5v1.5h-1.5zM453.1 601.5h1.5v1.5h-1.5zM469.5 170.8h1.5v1.5h-1.5zM469.5 601.5h1.5v1.5h-1.5zM485.8 170.8h1.5v1.5h-1.5zM485.8 601.5h1.5v1.5h-1.5zM502.1 170.8h1.5v1.5h-1.5zM502.1 601.5h1.5v1.5h-1.5zM518.5 170.8h1.5v1.5h-1.5zM518.5 601.5h1.5v1.5h-1.5zM534.8 170.8h1.5v1.5h-1.5zM534.8 601.5h1.5v1.5h-1.5zM551.2 170.8h1.5v1.5h-1.5zM551.2 601.5h1.5v1.5h-1.5zM567.5 170.8h1.5v1.5h-1.5zM567.5 601.5h1.5v1.5h-1.5zM583.8 170.8h1.5v1.5h-1.5zM583.8 601.5h1.5v1.5h-1.5zM600.2 170.8h1.5v1.5h-1.5zM600.2 601.5h1.5v1.5h-1.5zM616.5 170.8h1.5v1.5h-1.5zM616.5 601.5h1.5v1.5h-1.5zM632.9 170.8h1.5v1.5h-1.5zM632.9 601.5h1.5v1.5h-1.5zM649.2 170.8h1.5v1.5h-1.5zM649.2 601.5h1.5v1.5h-1.5zM665.5 170.8h1.5v1.5h-1.5zM665.5 601.5h1.5v1.5h-1.5zM681.9 170.8h1.5v1.5h-1.5zM681.9 601.5h1.5v1.5h-1.5zM698.2 170.8h1.5v1.5h-1.5zM698.2 601.5h1.5v1.5h-1.5zM714.6 170.8h1.5v1.5h-1.5zM714.6 601.5h1.5v1.5h-1.5zM730.9 170.8h1.5v1.5h-1.5zM730.9 601.5h1.5v1.5h-1.5zM747.2 170.8h1.5v1.5h-1.5zM747.2 601.5h1.5v1.5h-1.5zM763.6 170.8h1.5v1.5h-1.5zM763.6 601.5h1.5v1.5h-1.5zM779.9 170.8h1.5v1.5h-1.5zM779.9 601.5h1.5v1.5h-1.5zM796.3 170.8h1.5v1.5h-1.5zM796.3 601.5h1.5v1.5h-1.5zM812.6 170.8h1.5v1.5h-1.5zM812.6 601.5h1.5v1.5h-1.5zM828.9 170.8h1.5v1.5h-1.5zM828.9 601.5h1.5v1.5h-1.5zM845.3 170.8h1.5v1.5h-1.5zM845.3 601.5h1.5v1.5h-1.5zM861.6 170.8h1.5v1.5h-1.5zM861.6 601.5h1.5v1.5h-1.5zM878.0 170.8h1.5v1.5h-1.5zM878.0 601.5h1.5v1.5h-1.5zM80.1 179.1h1.5v1.5h-1.5zM890.9 179.1h1.5v1.5h-1.5zM80.1 190.0h1.5v1.5h-1.5zM890.9 190.0h1.5v1.5h-1.5zM80.1 200.9h1.5v1.5h-1.5zM890.9 200.9h1.5v1.5h-1.5zM80.1 211.8h1.5v1.5h-1.5zM890.9 211.8h1.5v1.5h-1.5zM80.1 222.7h1.5v1.5h-1.5zM890.9 222.7h1.5v1.5h-1.5zM80.1 233.6h1.5v1.5h-1.5zM890.9 233.6h1.5v1.5h-1.5zM80.1 244.5h1.5v1.5h-1.5zM890.9 244.5h1.5v1.5h-1.5zM80.1 255.4h1.5v1.5h-1.5zM890.9 255.4h1.5v1.5h-1.5zM80.1 266.3h1.5v1.5h-1.5zM890.9 266.3h1.5v1.5h-1.5zM80.1 277.2h1.5v1.5h-1.5zM890.9 277.2h1.5v1.5h-1.5zM80.1 288.1h1.5v1.5h-1.5zM890.9 288.1h1.5v1.5h-1.5zM80.1 299.0h1.5v1.5h-1.5zM890.9 299.0h1.5v1.5h-1.5zM80.1 309.9h1.5v1.5h-1.5zM890.9 309.9h1.5v1.5h-1.5zM80.1 320.8h1.5v1.5h-1.5zM890.9 320.8h1.5v1.5h-1.5zM80.1 331.7h1.5v1.5h-1.5zM890.9 331.7h1.5v1.5h-1.5zM80.1 342.6h1.5v1.5h-1.5zM890.9 342.6h1.5v1.5h-1.5zM80.1 353.5h1.5v1.5h-1.5zM890.9 353.5h1.5v1.5h-1.5zM80.1 364.4h1.5v1.5h-1.5zM890.9 364.4h1.5v1.5h-1.5zM80.1 375.3h1.5v1.5h-1.5zM890.9 375.3h1.5v1.5h-1.5zM80.1 386.2h1.5v1.5h-1.5zM890.9 386.2h1.5v1.5h-1.5zM80.1 397.1h1.5v1.5h-1.5zM890.9 397.1h1.5v1.5h-1.5zM80.1 408.0h1.5v1.5h-1.5zM890.9 408.0h1.5v1.5h-1.5zM80.1 418.9h1.5v1.5h-1.5zM890.9 418.9h1.5v1.5h-1.5zM80.1 429.8h1.5v1.5h-1.5zM890.9 429.8h1.5v1.5h-1.5zM80.1 440.7h1.5v1.5h-1.5zM890.9 440.7h1.5v1.5h-1.5zM80.1 451.5h1.5v1.5h-1.5zM890.9 451.5h1.5v1.5h-1.5zM80.1 462.4h1.5v1.5h-1.5zM890.9 462.4h1.5v1.5h-1.5zM80.1 473.3h1.5v1.5h-1.5zM890.9 473.3h1.5v1.5h-1.5zM80.1 484.2h1.5v1.5h-1.5zM890.9 484.2h1.5v1.5h-1.5zM80.1 495.1h1.5v1.5h-1.5zM890.9 495.1h1.5v1.5h-1.5zM80.1 506.0h1.5v1.5h-1.5zM890.9 506.0h1.5v1.5h-1.5zM80.1 516.9h1.5v1.5h-1.5zM890.9 516.9h1.5v1.5h-1.5zM80.1 527.8h1.5v1.5h-1.5zM890.9 527.8h1.5v1.5h-1.5zM80.1 538.7h1.5v1.5h-1.5zM890.9 538.7h1.5v1.5h-1.5zM80.1 549.6h1.5v1.5h-1.5zM890.9 549.6h1.5v1.5h-1.5zM80.1 560.5h1.5v1.5h-1.5zM890.9 560.5h1.5v1.5h-1.5zM80.1 571.4h1.5v1.5h-1.5zM890.9 571.4h1.5v1.5h-1.5zM80.1 582.3h1.5v1.5h-1.5zM890.9 582.3h1.5v1.5h-1.5zM80.1 593.2h1.5v1.5h-1.5zM890.9 593.2h1.5v1.5h-1.5zM482.4 179.1h1.5v1.5h-1.5zM489.1 179.1h1.5v1.5h-1.5zM482.4 190.0h1.5v1.5h-1.5zM489.1 190.0h1.5v1.5h-1.5zM482.4 200.9h1.5v1.5h-1.5zM489.1 200.9h1.5v1.5h-1.5zM482.4 211.8h1.5v1.5h-1.5zM489.1 211.8h1.5v1.5h-1.5zM482.4 222.7h1.5v1.5h-1.5zM489.1 222.7h1.5v1.5h-1.5zM482.4 233.6h1.5v1.5h-1.5zM489.1 233.6h1.5v1.5h-1.5zM482.4 244.5h1.5v1.5h-1.5zM489.1 244.5h1.5v1.5h-1.5zM482.4 255.4h1.5v1.5h-1.5zM489.1 255.4h1.5v1.5h-1.5zM482.4 266.3h1.5v1.5h-1.5zM489.1 266.3h1.5v1.5h-1.5zM482.4 277.2h1.5v1.5h-1.5zM489.1 277.2h1.5v1.5h-1.5zM482.4 288.1h1.5v1.5h-1.5zM489.1 288.1h1.5v1.5h-1.5zM482.4 299.0h1.5v1.5h-1.5zM489.1 299.0h1.5v1.5h-1.5zM482.4 309.9h1.5v1.5h-1.5zM489.1 309.9h1.5v1.5h-1.5zM482.4 320.8h1.5v1.5h-1.5zM489.1 320.8h1.5v1.5h-1.5zM482.4 331.7h1.5v1.5h-1.5zM489.1 331.7h1.5v1.5h-1.5zM482.4 342.6h1.5v1.5h-1.5zM489.1 342.6h1.5v1.5h-1.5zM482.4 353.5h1.5v1.5h-1.5zM489.1 353.5h1.5v1.5h-1.5zM482.4 364.4h1.5v1.5h-1.5zM489.1 364.4h1.5v1.5h-1.5zM482.4 375.3h1.5v1.5h-1.5zM489.1 375.3h1.5v1.5h-1.5zM482.4 386.2h1.5v1.5h-1.5zM489.1 386.2h1.5v1.5h-1.5zM482.4 397.1h1.5v1.5h-1.5zM489.1 397.1h1.5v1.5h-1.5zM482.4 408.0h1.5v1.5h-1.5zM489.1 408.0h1.5v1.5h-1.5zM482.4 418.9h1.5v1.5h-1.5zM489.1 418.9h1.5v1.5h-1.5zM482.4 429.8h1.5v1.5h-1.5zM489.1 429.8h1.5v1.5h-1.5zM482.4 440.7h1.5v1.5h-1.5zM489.1 440.7h1.5v1.5h-1.5zM482.4 451.5h1.5v1.5h-1.5zM489.1 451.5h1.5v1.5h-1.5zM482.4 462.4h1.5v1.5h-1.5zM489.1 462.4h1.5v1.5h-1.5zM482.4 473.3h1.5v1.5h-1.5zM489.1 473.3h1.5v1.5h-1.5zM482.4 484.2h1.5v1.5h-1.5zM489.1 484.2h1.5v1.5h-1.5zM482.4 495.1h1.5v1.5h-1.5zM489.1 495.1h1.5v1.5h-1.5zM482.4 506.0h1.5v1.5h-1.5zM489.1 506.0h1.5v1.5h-1.5zM482.4 516.9h1.5v1.5h-1.5zM489.1 516.9h1.5v1.5h-1.5zM482.4 527.8h1.5v1.5h-1.5zM489.1 527.8h1.5v1.5h-1.5zM482.4 538.7h1.5v1.5h-1.5zM489.1 538.7h1.5v1.5h-1.5zM482.4 549.6h1.5v1.5h-1.5zM489.1 549.6h1.5v1.5h-1.5zM482.4 560.5h1.5v1.5h-1.5zM489.1 560.5h1.5v1.5h-1.5zM482.4 571.4h1.5v1.5h-1.5zM489.1 571.4h1.5v1.5h-1.5zM482.4 582.3h1.5v1.5h-1.5zM489.1 582.3h1.5v1.5h-1.5zM482.4 593.2h1.5v1.5h-1.5zM489.1 593.2h1.5v1.5h-1.5z" fill="#000"/>
<g clip-path="url(#gc)">
<rect x="18.2" y="538" width="44.8" height="14.5" fill="#0c0cf2" stroke="#06069a" stroke-width="0.8"/>
<polygon points="61.9,529.0 65.9,500.0 72.6,455.0 75.4,430.0 77.9,419.0 81.9,406.0 85.3,387.8 88.6,379.4 100.7,379.4 104.9,392.5 109.1,379.4 121.2,379.4 124.5,387.8 127.9,406.0 131.9,419.0 134.4,430.0 137.2,455.0 143.9,500.0 147.9,529.0 147.4,529.0 138.9,500.0 129.9,455.0 124.9,430.0 121.9,416.8 111.9,416.8 107.4,432.0 102.4,432.0 97.9,416.8 87.9,416.8 84.9,430.0 79.9,455.0 70.9,500.0 62.4,529.0" fill="#0c0cf2" stroke="#06069a" stroke-width="0.8"/>
<rect x="146.9" y="538" width="44.8" height="14.5" fill="#0c0cf2" stroke="#06069a" stroke-width="0.8"/>
<polygon points="190.7,529.0 194.7,500.0 201.4,455.0 204.2,430.0 206.7,419.0 210.7,406.0 214.1,387.8 217.3,379.4 229.5,379.4 233.7,392.5 237.8,379.4 250.0,379.4 253.2,387.8 256.6,406.0 260.6,419.0 263.1,430.0 265.9,455.0 272.6,500.0 276.6,529.0 276.1,529.0 267.6,500.0 258.6,455.0 253.7,430.0 250.7,416.8 240.7,416.8 236.2,432.0 231.2,432.0 226.7,416.8 216.7,416.8 213.7,430.0 208.7,455.0 199.7,500.0 191.2,529.0" fill="#0c0cf2" stroke="#06069a" stroke-width="0.8"/>
<rect x="275.6" y="538" width="44.8" height="14.5" fill="#0c0cf2" stroke="#06069a" stroke-width="0.8"/>
<polygon points="319.4,529.0 323.4,500.0 330.1,455.0 332.9,430.0 335.4,419.0 339.4,406.0 342.8,387.8 346.1,379.4 358.2,379.4 362.4,392.5 366.6,379.4 378.7,379.4 382.0,387.8 385.4,406.0 389.4,419.0 391.9,430.0 394.7,455.0 401.4,500.0 405.4,529.0 404.9,529.0 396.4,500.0 387.4,455.0 382.4,430.0 379.4,416.8 369.4,416.8 364.9,432.0 359.9,432.0 355.4,416.8 345.4,416.8 342.4,430.0 337.4,455.0 328.4,500.0 319.9,529.0" fill="#0c0cf2" stroke="#06069a" stroke-width="0.8"/>
<rect x="404.4" y="538" width="44.8" height="14.5" fill="#0c0cf2" stroke="#06069a" stroke-width="0.8"/>
<polygon points="448.1,529.0 452.1,500.0 458.8,455.0 461.6,430.0 464.1,419.0 468.1,406.0 471.5,387.8 474.8,379.4 486.9,379.4 491.1,392.5 495.3,379.4 507.4,379.4 510.8,387.8 514.1,406.0 518.1,419.0 520.6,430.0 523.4,455.0 530.1,500.0 534.1,529.0 533.6,529.0 525.1,500.0 516.1,455.0 511.1,430.0 508.1,416.8 498.1,416.8 493.6,432.0 488.6,432.0 484.1,416.8 474.1,416.8 471.1,430.0 466.1,455.0 457.1,500.0 448.6,529.0" fill="#0c0cf2" stroke="#06069a" stroke-width="0.8"/>
<rect x="533.1" y="538" width="44.8" height="14.5" fill="#0c0cf2" stroke="#06069a" stroke-width="0.8"/>
<polygon points="576.9,529.0 580.9,500.0 587.6,455.0 590.4,430.0 592.9,419.0 596.9,406.0 600.3,387.8 603.6,379.4 615.7,379.4 619.9,392.5 624.1,379.4 636.2,379.4 639.5,387.8 642.9,406.0 646.9,419.0 649.4,430.0 652.2,455.0 658.9,500.0 662.9,529.0 662.4,529.0 653.9,500.0 644.9,455.0 639.9,430.0 636.9,416.8 626.9,416.8 622.4,432.0 617.4,432.0 612.9,416.8 602.9,416.8 599.9,430.0 594.9,455.0 585.9,500.0 577.4,529.0" fill="#0c0cf2" stroke="#06069a" stroke-width="0.8"/>
<rect x="661.9" y="538" width="44.8" height="14.5" fill="#0c0cf2" stroke="#06069a" stroke-width="0.8"/>
<polygon points="705.6,529.0 709.6,500.0 716.4,455.0 719.1,430.0 721.6,419.0 725.6,406.0 729.0,387.8 732.4,379.4 744.4,379.4 748.6,392.5 752.9,379.4 764.9,379.4 768.2,387.8 771.6,406.0 775.6,419.0 778.1,430.0 780.9,455.0 787.6,500.0 791.6,529.0 791.1,529.0 782.6,500.0 773.6,455.0 768.6,430.0 765.6,416.8 755.6,416.8 751.1,432.0 746.1,432.0 741.6,416.8 731.6,416.8 728.6,430.0 723.6,455.0 714.6,500.0 706.1,529.0" fill="#0c0cf2" stroke="#06069a" stroke-width="0.8"/>
<rect x="790.6" y="538" width="44.8" height="14.5" fill="#0c0cf2" stroke="#06069a" stroke-width="0.8"/>
<polygon points="834.4,529.0 838.4,500.0 845.1,455.0 847.9,430.0 850.4,419.0 854.4,406.0 857.8,387.8 861.1,379.4 873.2,379.4 877.4,392.5 881.6,379.4 893.7,379.4 897.0,387.8 900.4,406.0 904.4,419.0 906.9,430.0 909.7,455.0 916.4,500.0 920.4,529.0 919.9,529.0 911.4,500.0 902.4,455.0 897.4,430.0 894.4,416.8 884.4,416.8 879.9,432.0 874.9,432.0 870.4,416.8 860.4,416.8 857.4,430.0 852.4,455.0 843.4,500.0 834.9,529.0" fill="#0c0cf2" stroke="#06069a" stroke-width="0.8"/>
<rect x="919.4" y="538" width="44.8" height="14.5" fill="#0c0cf2" stroke="#06069a" stroke-width="0.8"/>
<rect x="-66.5" y="537" width="44.8" height="15" fill="#f000f0" stroke="#900090" stroke-width="0.8"/>
<rect x="62.2" y="537" width="44.8" height="15" fill="#f000f0" stroke="#900090" stroke-width="0.8"/>
<polygon points="106.0,529.0 110.0,500.0 116.7,455.0 119.5,430.0 122.0,419.0 126.0,406.0 129.4,387.8 132.7,379.4 144.8,379.4 149.0,392.5 153.2,379.4 165.3,379.4 168.6,387.8 172.0,406.0 176.0,419.0 178.5,430.0 181.3,455.0 188.0,500.0 192.0,529.0 191.5,529.0 183.0,500.0 174.0,455.0 169.0,430.0 166.0,416.8 156.0,416.8 151.5,432.0 146.5,432.0 142.0,416.8 132.0,416.8 129.0,430.0 124.0,455.0 115.0,500.0 106.5,529.0" fill="#f000f0" stroke="#900090" stroke-width="0.8"/>
<rect x="191.0" y="537" width="44.8" height="15" fill="#f000f0" stroke="#900090" stroke-width="0.8"/>
<polygon points="234.8,529.0 238.8,500.0 245.4,455.0 248.2,430.0 250.8,419.0 254.8,406.0 258.1,387.8 261.4,379.4 273.6,379.4 277.8,392.5 281.9,379.4 294.1,379.4 297.4,387.8 300.8,406.0 304.8,419.0 307.2,430.0 310.1,455.0 316.8,500.0 320.8,529.0 320.2,529.0 311.8,500.0 302.8,455.0 297.8,430.0 294.8,416.8 284.8,416.8 280.2,432.0 275.2,432.0 270.8,416.8 260.8,416.8 257.8,430.0 252.8,455.0 243.8,500.0 235.2,529.0" fill="#f000f0" stroke="#900090" stroke-width="0.8"/>
<rect x="319.8" y="537" width="44.8" height="15" fill="#f000f0" stroke="#900090" stroke-width="0.8"/>
<polygon points="363.5,529.0 367.5,500.0 374.2,455.0 377.0,430.0 379.5,419.0 383.5,406.0 386.9,387.8 390.2,379.4 402.3,379.4 406.5,392.5 410.7,379.4 422.8,379.4 426.1,387.8 429.5,406.0 433.5,419.0 436.0,430.0 438.8,455.0 445.5,500.0 449.5,529.0 449.0,529.0 440.5,500.0 431.5,455.0 426.5,430.0 423.5,416.8 413.5,416.8 409.0,432.0 404.0,432.0 399.5,416.8 389.5,416.8 386.5,430.0 381.5,455.0 372.5,500.0 364.0,529.0" fill="#f000f0" stroke="#900090" stroke-width="0.8"/>
<rect x="448.5" y="537" width="44.8" height="15" fill="#f000f0" stroke="#900090" stroke-width="0.8"/>
<polygon points="492.2,529.0 496.2,500.0 502.9,455.0 505.8,430.0 508.2,419.0 512.2,406.0 515.6,387.8 519.0,379.4 531.0,379.4 535.2,392.5 539.5,379.4 551.5,379.4 554.9,387.8 558.2,406.0 562.2,419.0 564.8,430.0 567.5,455.0 574.2,500.0 578.2,529.0 577.8,529.0 569.2,500.0 560.2,455.0 555.2,430.0 552.2,416.8 542.2,416.8 537.8,432.0 532.8,432.0 528.2,416.8 518.2,416.8 515.2,430.0 510.2,455.0 501.2,500.0 492.8,529.0" fill="#f000f0" stroke="#900090" stroke-width="0.8"/>
<rect x="577.2" y="537" width="44.8" height="15" fill="#f000f0" stroke="#900090" stroke-width="0.8"/>
<polygon points="621.0,529.0 625.0,500.0 631.7,455.0 634.5,430.0 637.0,419.0 641.0,406.0 644.4,387.8 647.7,379.4 659.8,379.4 664.0,392.5 668.2,379.4 680.3,379.4 683.6,387.8 687.0,406.0 691.0,419.0 693.5,430.0 696.3,455.0 703.0,500.0 707.0,529.0 706.5,529.0 698.0,500.0 689.0,455.0 684.0,430.0 681.0,416.8 671.0,416.8 666.5,432.0 661.5,432.0 657.0,416.8 647.0,416.8 644.0,430.0 639.0,455.0 630.0,500.0 621.5,529.0" fill="#f000f0" stroke="#900090" stroke-width="0.8"/>
<rect x="706.0" y="537" width="44.8" height="15" fill="#f000f0" stroke="#900090" stroke-width="0.8"/>
<polygon points="749.8,529.0 753.8,500.0 760.5,455.0 763.2,430.0 765.8,419.0 769.8,406.0 773.1,387.8 776.5,379.4 788.5,379.4 792.8,392.5 797.0,379.4 809.0,379.4 812.4,387.8 815.8,406.0 819.8,419.0 822.2,430.0 825.0,455.0 831.8,500.0 835.8,529.0 835.2,529.0 826.8,500.0 817.8,455.0 812.8,430.0 809.8,416.8 799.8,416.8 795.2,432.0 790.2,432.0 785.8,416.8 775.8,416.8 772.8,430.0 767.8,455.0 758.8,500.0 750.2,529.0" fill="#f000f0" stroke="#900090" stroke-width="0.8"/>
<rect x="834.8" y="537" width="44.8" height="15" fill="#f000f0" stroke="#900090" stroke-width="0.8"/>
<polygon points="878.5,529.0 882.5,500.0 889.2,455.0 892.0,430.0 894.5,419.0 898.5,406.0 901.9,387.8 905.2,379.4 917.3,379.4 921.5,392.5 925.7,379.4 937.8,379.4 941.1,387.8 944.5,406.0 948.5,419.0 951.0,430.0 953.8,455.0 960.5,500.0 964.5,529.0 964.0,529.0 955.5,500.0 946.5,455.0 941.5,430.0 938.5,416.8 928.5,416.8 924.0,432.0 919.0,432.0 914.5,416.8 904.5,416.8 901.5,430.0 896.5,455.0 887.5,500.0 879.0,529.0" fill="#f000f0" stroke="#900090" stroke-width="0.8"/>
<rect x="963.5" y="537" width="44.8" height="15" fill="#f000f0" stroke="#900090" stroke-width="0.8"/>
<rect x="-24.2" y="531" width="44.8" height="25" fill="#10ecec" stroke="#0a9a9a" stroke-width="2.0"/>
<polygon points="19.1,525.5 23.1,496.5 29.1,451.5 33.1,426.5 36.6,412.5 40.4,385.7 44.0,376.7 45.7,368.9 57.1,368.9 62.6,386.0 68.1,368.9 79.5,368.9 81.2,376.7 84.8,385.7 88.6,412.5 92.1,426.5 96.1,451.5 102.1,496.5 106.1,525.5 105.1,525.5 96.5,496.5 86.6,451.5 80.1,426.5 77.6,413.3 75.6,413.3 63.6,433.0 61.6,433.0 49.6,413.3 47.6,413.3 45.1,426.5 38.6,451.5 28.7,496.5 20.1,525.5" fill="#1aa8a8"/>
<polygon points="19.1,529.0 23.1,500.0 29.1,455.0 33.1,430.0 36.6,416.0 40.4,389.2 44.0,380.2 45.7,372.4 57.1,372.4 62.6,389.5 68.1,372.4 79.5,372.4 81.2,380.2 84.8,389.2 88.6,416.0 92.1,430.0 96.1,455.0 102.1,500.0 106.1,529.0 105.1,529.0 96.5,500.0 86.6,455.0 80.1,430.0 77.6,416.8 75.6,416.8 63.6,436.5 61.6,436.5 49.6,416.8 47.6,416.8 45.1,430.0 38.6,455.0 28.7,500.0 20.1,529.0" fill="#10ecec" stroke="#0a9a9a" stroke-width="2.0"/>
<rect x="104.6" y="531" width="44.8" height="25" fill="#10ecec" stroke="#0a9a9a" stroke-width="2.0"/>
<polygon points="147.8,525.5 151.8,496.5 157.8,451.5 161.8,426.5 165.3,412.5 169.1,385.7 172.7,376.7 174.4,368.9 185.8,368.9 191.3,386.0 196.8,368.9 208.2,368.9 209.9,376.7 213.5,385.7 217.3,412.5 220.8,426.5 224.8,451.5 230.8,496.5 234.8,525.5 233.8,525.5 225.2,496.5 215.3,451.5 208.8,426.5 206.3,413.3 204.3,413.3 192.3,433.0 190.3,433.0 178.3,413.3 176.3,413.3 173.8,426.5 167.3,451.5 157.4,496.5 148.8,525.5" fill="#1aa8a8"/>
<polygon points="147.8,529.0 151.8,500.0 157.8,455.0 161.8,430.0 165.3,416.0 169.1,389.2 172.7,380.2 174.4,372.4 185.8,372.4 191.3,389.5 196.8,372.4 208.2,372.4 209.9,380.2 213.5,389.2 217.3,416.0 220.8,430.0 224.8,455.0 230.8,500.0 234.8,529.0 233.8,529.0 225.2,500.0 215.3,455.0 208.8,430.0 206.3,416.8 204.3,416.8 192.3,436.5 190.3,436.5 178.3,416.8 176.3,416.8 173.8,430.0 167.3,455.0 157.4,500.0 148.8,529.0" fill="#10ecec" stroke="#0a9a9a" stroke-width="2.0"/>
<rect x="233.3" y="531" width="44.8" height="25" fill="#10ecec" stroke="#0a9a9a" stroke-width="2.0"/>
<polygon points="276.6,525.5 280.6,496.5 286.6,451.5 290.6,426.5 294.1,412.5 297.9,385.7 301.4,376.7 303.2,368.9 314.6,368.9 320.1,386.0 325.6,368.9 336.9,368.9 338.7,376.7 342.2,385.7 346.1,412.5 349.6,426.5 353.6,451.5 359.6,496.5 363.6,525.5 362.6,525.5 353.9,496.5 344.1,451.5 337.6,426.5 335.1,413.3 333.1,413.3 321.1,433.0 319.1,433.0 307.1,413.3 305.1,413.3 302.6,426.5 296.1,451.5 286.2,496.5 277.6,525.5" fill="#1aa8a8"/>
<polygon points="276.6,529.0 280.6,500.0 286.6,455.0 290.6,430.0 294.1,416.0 297.9,389.2 301.4,380.2 303.2,372.4 314.6,372.4 320.1,389.5 325.6,372.4 336.9,372.4 338.7,380.2 342.2,389.2 346.1,416.0 349.6,430.0 353.6,455.0 359.6,500.0 363.6,529.0 362.6,529.0 353.9,500.0 344.1,455.0 337.6,430.0 335.1,416.8 333.1,416.8 321.1,436.5 319.1,436.5 307.1,416.8 305.1,416.8 302.6,430.0 296.1,455.0 286.2,500.0 277.6,529.0" fill="#10ecec" stroke="#0a9a9a" stroke-width="2.0"/>
<rect x="362.1" y="531" width="44.8" height="25" fill="#10ecec" stroke="#0a9a9a" stroke-width="2.0"/>
<polygon points="405.3,525.5 409.3,496.5 415.3,451.5 419.3,426.5 422.8,412.5 426.6,385.7 430.2,376.7 431.9,368.9 443.3,368.9 448.8,386.0 454.3,368.9 465.7,368.9 467.4,376.7 471.0,385.7 474.8,412.5 478.3,426.5 482.3,451.5 488.3,496.5 492.3,525.5 491.3,525.5 482.7,496.5 472.8,451.5 466.3,426.5 463.8,413.3 461.8,413.3 449.8,433.0 447.8,433.0 435.8,413.3 433.8,413.3 431.3,426.5 424.8,451.5 414.9,496.5 406.3,525.5" fill="#1aa8a8"/>
<polygon points="405.3,529.0 409.3,500.0 415.3,455.0 419.3,430.0 422.8,416.0 426.6,389.2 430.2,380.2 431.9,372.4 443.3,372.4 448.8,389.5 454.3,372.4 465.7,372.4 467.4,380.2 471.0,389.2 474.8,416.0 478.3,430.0 482.3,455.0 488.3,500.0 492.3,529.0 491.3,529.0 482.7,500.0 472.8,455.0 466.3,430.0 463.8,416.8 461.8,416.8 449.8,436.5 447.8,436.5 435.8,416.8 433.8,416.8 431.3,430.0 424.8,455.0 414.9,500.0 406.3,529.0" fill="#10ecec" stroke="#0a9a9a" stroke-width="2.0"/>
<rect x="490.8" y="531" width="44.7" height="25" fill="#10ecec" stroke="#0a9a9a" stroke-width="2.0"/>
<polygon points="534.0,525.5 538.0,496.5 544.0,451.5 548.0,426.5 551.5,412.5 555.3,385.7 558.9,376.7 560.6,368.9 572.0,368.9 577.5,386.0 583.0,368.9 594.4,368.9 596.1,376.7 599.8,385.7 603.5,412.5 607.0,426.5 611.0,451.5 617.0,496.5 621.0,525.5 620.0,525.5 611.4,496.5 601.5,451.5 595.0,426.5 592.5,413.3 590.5,413.3 578.5,433.0 576.5,433.0 564.5,413.3 562.5,413.3 560.0,426.5 553.5,451.5 543.6,496.5 535.0,525.5" fill="#1aa8a8"/>
<polygon points="534.0,529.0 538.0,500.0 544.0,455.0 548.0,430.0 551.5,416.0 555.3,389.2 558.9,380.2 560.6,372.4 572.0,372.4 577.5,389.5 583.0,372.4 594.4,372.4 596.1,380.2 599.8,389.2 603.5,416.0 607.0,430.0 611.0,455.0 617.0,500.0 621.0,529.0 620.0,529.0 611.4,500.0 601.5,455.0 595.0,430.0 592.5,416.8 590.5,416.8 578.5,436.5 576.5,436.5 564.5,416.8 562.5,416.8 560.0,430.0 553.5,455.0 543.6,500.0 535.0,529.0" fill="#10ecec" stroke="#0a9a9a" stroke-width="2.0"/>
<rect x="619.5" y="531" width="44.8" height="25" fill="#10ecec" stroke="#0a9a9a" stroke-width="2.0"/>
<polygon points="662.8,525.5 666.8,496.5 672.8,451.5 676.8,426.5 680.3,412.5 684.1,385.7 687.7,376.7 689.4,368.9 700.8,368.9 706.3,386.0 711.8,368.9 723.2,368.9 724.9,376.7 728.5,385.7 732.3,412.5 735.8,426.5 739.8,451.5 745.8,496.5 749.8,525.5 748.8,525.5 740.2,496.5 730.3,451.5 723.8,426.5 721.3,413.3 719.3,413.3 707.3,433.0 705.3,433.0 693.3,413.3 691.3,413.3 688.8,426.5 682.3,451.5 672.4,496.5 663.8,525.5" fill="#1aa8a8"/>
<polygon points="662.8,529.0 666.8,500.0 672.8,455.0 676.8,430.0 680.3,416.0 684.1,389.2 687.7,380.2 689.4,372.4 700.8,372.4 706.3,389.5 711.8,372.4 723.2,372.4 724.9,380.2 728.5,389.2 732.3,416.0 735.8,430.0 739.8,455.0 745.8,500.0 749.8,529.0 748.8,529.0 740.2,500.0 730.3,455.0 723.8,430.0 721.3,416.8 719.3,416.8 707.3,436.5 705.3,436.5 693.3,416.8 691.3,416.8 688.8,430.0 682.3,455.0 672.4,500.0 663.8,529.0" fill="#10ecec" stroke="#0a9a9a" stroke-width="2.0"/>
<rect x="748.3" y="531" width="44.8" height="25" fill="#10ecec" stroke="#0a9a9a" stroke-width="2.0"/>
<polygon points="791.5,525.5 795.5,496.5 801.5,451.5 805.5,426.5 809.0,412.5 812.8,385.7 816.4,376.7 818.1,368.9 829.5,368.9 835.0,386.0 840.5,368.9 851.9,368.9 853.6,376.7 857.2,385.7 861.0,412.5 864.5,426.5 868.5,451.5 874.5,496.5 878.5,525.5 877.5,525.5 868.9,496.5 859.0,451.5 852.5,426.5 850.0,413.3 848.0,413.3 836.0,433.0 834.0,433.0 822.0,413.3 820.0,413.3 817.5,426.5 811.0,451.5 801.1,496.5 792.5,525.5" fill="#1aa8a8"/>
<polygon points="791.5,529.0 795.5,500.0 801.5,455.0 805.5,430.0 809.0,416.0 812.8,389.2 816.4,380.2 818.1,372.4 829.5,372.4 835.0,389.5 840.5,372.4 851.9,372.4 853.6,380.2 857.2,389.2 861.0,416.0 864.5,430.0 868.5,455.0 874.5,500.0 878.5,529.0 877.5,529.0 868.9,500.0 859.0,455.0 852.5,430.0 850.0,416.8 848.0,416.8 836.0,436.5 834.0,436.5 822.0,416.8 820.0,416.8 817.5,430.0 811.0,455.0 801.1,500.0 792.5,529.0" fill="#10ecec" stroke="#0a9a9a" stroke-width="2.0"/>
<rect x="877.0" y="531" width="44.8" height="25" fill="#10ecec" stroke="#0a9a9a" stroke-width="2.0"/>
<g clip-path="url(#gc)"><rect x="-25.2" y="528" width="46.8" height="30" fill="#1ea2a2"/><rect x="-24.2" y="533.5" width="44.8" height="18.5" fill="#10ecec"/><rect x="103.6" y="528" width="46.8" height="30" fill="#1ea2a2"/><rect x="104.6" y="533.5" width="44.8" height="18.5" fill="#10ecec"/><rect x="232.3" y="528" width="46.8" height="30" fill="#1ea2a2"/><rect x="233.3" y="533.5" width="44.8" height="18.5" fill="#10ecec"/><rect x="361.1" y="528" width="46.8" height="30" fill="#1ea2a2"/><rect x="362.1" y="533.5" width="44.8" height="18.5" fill="#10ecec"/><rect x="489.8" y="528" width="46.7" height="30" fill="#1ea2a2"/><rect x="490.8" y="533.5" width="44.7" height="18.5" fill="#10ecec"/><rect x="618.5" y="528" width="46.8" height="30" fill="#1ea2a2"/><rect x="619.5" y="533.5" width="44.8" height="18.5" fill="#10ecec"/><rect x="747.3" y="528" width="46.8" height="30" fill="#1ea2a2"/><rect x="748.3" y="533.5" width="44.8" height="18.5" fill="#10ecec"/><rect x="876.0" y="528" width="46.8" height="30" fill="#1ea2a2"/><rect x="877.0" y="533.5" width="44.8" height="18.5" fill="#10ecec"/><rect x="1004.8" y="528" width="46.8" height="30" fill="#1ea2a2"/><rect x="1005.8" y="533.5" width="44.8" height="18.5" fill="#10ecec"/><rect x="1133.5" y="528" width="46.8" height="30" fill="#1ea2a2"/><rect x="1134.5" y="533.5" width="44.8" height="18.5" fill="#10ecec"/><rect x="1262.3" y="528" width="46.8" height="30" fill="#1ea2a2"/><rect x="1263.3" y="533.5" width="44.8" height="18.5" fill="#10ecec"/><path d="M-25.2 526.8V531.1M-25.2 554.2V560.7M-23.4 527.7V532.5M-23.4 555.2V558.1M-22.2 523.0V532.5M-22.2 554.6V560.4M-20.4 527.2V532.6M-20.4 554.4V561.2M-18.5 524.6V532.3M-18.5 554.2V558.3M-17.2 527.8V531.4M-17.2 553.8V562.3M-15.1 524.4V531.2M-15.1 553.6V562.6M-13.6 523.3V530.3M-13.6 555.6V562.4M-12.3 523.2V531.9M-12.3 555.1V560.2M-10.7 526.1V531.8M-10.7 554.2V559.8M-8.6 524.6V532.6M-8.6 553.0V562.6M-6.8 527.2V532.9M-6.8 553.3V562.3M-5.1 524.4V532.5M-5.1 554.3V559.1M-3.8 527.7V533.0M-3.8 555.7V562.3M-1.8 525.9V530.9M-1.8 553.7V558.8M0.2 527.8V530.1M0.2 553.8V561.1M1.6 523.6V531.5M1.6 553.0V562.9M3.0 527.6V530.1M3.0 555.4V561.0M4.5 524.9V530.1M4.5 553.4V558.8M5.9 523.2V531.1M5.9 554.6V562.5M7.5 524.8V531.7M7.5 554.1V561.0M9.6 525.5V532.2M9.6 555.3V560.2M11.0 523.1V531.6M11.0 556.0V560.6M12.5 525.1V531.8M12.5 554.1V558.1M13.6 524.9V532.0M13.6 554.9V560.3M15.4 524.3V530.2M15.4 554.0V558.1M17.6 526.7V531.8M17.6 555.0V560.3M19.0 526.4V531.8M19.0 555.1V559.8M20.4 524.1V531.7M20.4 553.8V558.1M-71.7 369.6V373.5M-73.7 369.5V373.5M-74.9 368.8V373.5M-76.7 370.1V373.5M-78.1 369.2V373.5M-80.1 368.7V373.5M-82.1 369.8V373.5M-60.7 367.9V373.5M-58.6 368.7V373.5M-57.4 370.0V373.5M-55.7 369.7V373.5M-53.8 367.1V373.5M-52.5 369.4V373.5M-50.6 367.9V373.5M103.6 526.3V530.9M103.6 553.6V558.6M104.9 526.3V531.3M104.9 554.8V560.1M107.0 527.2V532.8M107.0 553.4V558.0M109.2 525.8V532.8M109.2 555.3V562.8M111.1 523.8V531.6M111.1 555.1V561.3M112.5 526.9V531.8M112.5 555.1V558.3M114.4 527.8V532.1M114.4 553.2V562.5M116.5 523.5V530.0M116.5 553.8V560.9M117.7 526.5V531.6M117.7 554.8V561.3M119.8 524.9V530.8M119.8 553.4V559.7M121.4 524.1V530.6M121.4 554.4V559.8M123.4 527.1V532.8M123.4 553.6V562.0M125.4 528.0V532.6M125.4 555.9V561.1M126.7 526.7V531.3M126.7 554.6V560.6M128.6 528.0V530.4M128.6 555.6V558.3M129.7 523.1V530.3M129.7 554.5V562.3M131.1 526.4V531.9M131.1 554.2V559.8M132.5 527.0V530.4M132.5 554.3V559.6M134.4 526.1V530.5M134.4 554.9V558.4M136.1 524.1V532.4M136.1 554.1V559.9M137.6 526.1V532.1M137.6 554.7V560.5M139.5 525.7V531.6M139.5 553.9V559.2M140.6 525.9V532.6M140.6 553.2V560.1M142.0 523.5V530.8M142.0 554.6V562.0M143.2 523.9V532.7M143.2 553.6V561.3M145.0 524.3V530.3M145.0 554.2V560.8M146.0 527.3V530.1M146.0 555.7V561.9M147.1 523.6V530.1M147.1 553.5V558.9M148.2 523.8V532.5M148.2 553.1V561.4M149.9 524.0V532.3M149.9 554.5V558.2M57.1 370.1V373.5M55.2 366.8V373.5M54.1 369.2V373.5M52.4 367.2V373.5M51.1 369.8V373.5M49.8 368.0V373.5M47.9 368.9V373.5M46.5 368.9V373.5M68.1 368.8V373.5M69.1 368.5V373.5M71.3 368.8V373.5M73.2 369.9V373.5M75.0 367.5V373.5M76.9 368.4V373.5M78.4 367.9V373.5M232.3 527.3V532.2M232.3 553.3V558.5M233.9 525.8V530.6M233.9 555.2V561.6M235.2 525.1V530.7M235.2 553.9V559.6M237.3 526.5V531.2M237.3 553.4V561.5M239.0 526.7V530.1M239.0 554.6V559.1M240.5 527.1V531.0M240.5 553.7V559.8M241.6 523.0V531.8M241.6 554.6V560.4M243.6 523.9V531.4M243.6 553.8V560.8M245.7 526.0V532.9M245.7 554.6V561.7M246.9 526.8V532.0M246.9 553.1V561.6M249.0 526.8V530.8M249.0 555.4V558.9M250.8 523.7V530.8M250.8 553.4V562.5M252.2 525.9V530.3M252.2 555.7V561.6M254.2 526.5V531.7M254.2 554.0V559.8M255.2 526.3V531.5M255.2 555.4V560.2M256.9 523.2V531.6M256.9 555.6V560.0M258.2 524.7V532.7M258.2 553.3V558.6M259.3 523.3V532.3M259.3 553.7V559.9M260.7 524.6V532.4M260.7 555.2V561.3M262.6 523.2V531.6M262.6 555.7V561.4M264.2 526.2V532.0M264.2 554.3V561.6M265.4 524.8V530.5M265.4 553.3V561.2M267.2 527.4V530.4M267.2 555.0V562.7M269.1 525.0V531.9M269.1 554.6V560.8M270.4 527.1V532.1M270.4 553.7V558.3M272.1 524.3V530.8M272.1 554.8V559.8M274.1 527.8V530.7M274.1 553.7V560.5M275.6 526.3V531.6M275.6 553.7V560.0M277.0 523.8V530.8M277.0 555.7V558.6M278.1 524.1V530.6M278.1 555.4V561.6M185.8 367.5V373.5M183.8 367.5V373.5M182.1 369.9V373.5M180.6 369.7V373.5M179.0 368.2V373.5M177.8 369.5V373.5M175.8 370.4V373.5M196.8 366.9V373.5M198.9 369.0V373.5M200.6 368.2V373.5M202.4 366.6V373.5M204.2 369.3V373.5M206.2 368.6V373.5M207.9 367.6V373.5M361.1 524.1V531.5M361.1 554.4V561.3M362.6 527.0V530.1M362.6 554.5V560.6M364.4 525.8V532.9M364.4 553.3V560.8M365.5 524.0V530.2M365.5 554.9V561.1M366.8 527.6V532.8M366.8 555.0V560.7M368.9 524.5V532.6M368.9 554.2V558.7M371.0 524.4V531.0M371.0 553.6V561.7M373.1 523.7V532.3M373.1 554.5V560.2M374.2 527.8V530.6M374.2 555.5V558.4M375.8 524.5V531.3M375.8 554.1V560.7M377.2 525.7V531.2M377.2 555.5V561.8M379.3 524.4V531.1M379.3 554.4V559.8M381.0 526.9V530.6M381.0 553.7V558.0M382.2 525.7V530.6M382.2 555.5V559.0M383.6 527.2V530.3M383.6 555.5V558.1M385.2 527.7V531.3M385.2 554.8V558.1M387.1 527.7V531.2M387.1 555.9V560.0M389.2 526.9V531.4M389.2 555.5V558.5M391.0 526.3V530.2M391.0 553.8V558.6M392.3 524.1V532.8M392.3 555.1V560.3M393.6 526.7V531.9M393.6 555.0V562.1M394.7 524.6V531.8M394.7 556.0V562.8M395.8 527.5V530.1M395.8 555.8V558.9M397.5 523.5V532.9M397.5 554.6V559.0M399.5 523.4V530.1M399.5 555.1V562.7M401.2 523.3V530.9M401.2 553.5V558.4M402.4 526.1V532.0M402.4 553.2V559.7M403.6 524.3V532.5M403.6 554.3V561.7M405.7 526.2V530.7M405.7 553.7V560.1M407.3 526.7V532.2M407.3 554.2V558.8M314.6 369.0V373.5M313.0 369.9V373.5M311.1 370.4V373.5M309.6 367.5V373.5M307.7 370.1V373.5M306.5 367.1V373.5M304.7 367.0V373.5M325.6 368.7V373.5M327.6 367.6V373.5M329.0 369.0V373.5M330.1 368.9V373.5M332.3 370.1V373.5M333.9 370.1V373.5M335.0 367.9V373.5M336.3 370.3V373.5M489.8 524.8V530.0M489.8 555.3V560.9M492.0 526.9V531.3M492.0 553.7V560.8M493.7 524.1V530.6M493.7 555.5V560.7M494.8 523.9V530.1M494.8 553.1V558.6M496.0 523.5V531.4M496.0 555.3V558.4M498.0 524.9V532.3M498.0 553.4V561.2M499.4 525.0V530.3M499.4 553.5V560.2M501.1 523.9V531.6M501.1 554.6V559.0M503.0 527.6V531.5M503.0 555.8V559.7M504.7 524.3V531.9M504.7 554.2V560.1M505.9 526.2V531.0M505.9 554.7V563.0M507.0 526.9V532.8M507.0 553.8V558.8M509.1 523.1V532.8M509.1 554.4V561.1M510.6 523.3V532.8M510.6 554.5V562.5M512.5 526.0V532.8M512.5 555.1V563.0M514.6 527.1V532.2M514.6 555.1V558.5M516.3 524.8V532.2M516.3 555.2V558.2M517.8 526.3V532.2M517.8 555.1V561.7M518.9 526.5V530.2M518.9 555.5V560.1M520.8 524.5V532.9M520.8 553.4V562.9M522.3 527.2V531.4M522.3 554.4V559.6M523.9 526.2V530.9M523.9 554.6V562.3M526.0 524.0V530.7M526.0 553.6V559.5M527.0 527.3V531.6M527.0 555.5V560.7M528.1 527.0V531.4M528.1 553.1V561.8M530.0 523.1V530.6M530.0 556.0V558.2M531.5 526.3V531.6M531.5 555.7V558.3M532.9 526.8V531.3M532.9 555.2V562.0M533.9 525.9V532.0M533.9 553.3V561.1M535.9 526.8V532.3M535.9 553.6V558.7M443.3 367.2V373.5M441.6 369.4V373.5M440.4 370.4V373.5M438.7 366.9V373.5M436.6 368.6V373.5M434.8 366.8V373.5M432.8 368.1V373.5M454.3 368.4V373.5M455.5 369.8V373.5M457.3 366.5V373.5M459.0 368.9V373.5M460.4 368.7V373.5M462.4 368.7V373.5M464.5 369.9V373.5M618.5 525.4V532.6M618.5 553.5V560.1M620.7 524.9V531.7M620.7 554.4V558.2M622.3 526.6V532.7M622.3 555.7V561.5M624.1 526.1V532.7M624.1 553.1V560.6M625.8 527.0V530.5M625.8 554.9V562.6M627.8 526.4V532.8M627.8 553.2V559.4M629.2 526.0V530.4M629.2 555.2V559.4M631.4 527.6V530.6M631.4 555.8V559.1M633.0 524.3V531.9M633.0 553.5V562.2M634.0 526.6V530.2M634.0 555.2V562.8M635.6 526.7V530.1M635.6 555.3V560.7M637.7 527.3V530.5M637.7 553.0V562.5M639.6 524.8V530.2M639.6 553.7V558.7M640.8 527.1V532.6M640.8 555.9V562.1M642.9 525.3V530.3M642.9 554.8V559.9M645.1 526.6V530.4M645.1 555.6V558.7M646.5 523.4V530.6M646.5 553.2V558.4M648.7 523.1V531.1M648.7 553.1V559.2M650.3 524.5V530.1M650.3 555.0V559.6M652.2 524.1V531.4M652.2 554.4V560.8M653.7 525.3V530.6M653.7 554.2V562.2M655.9 523.8V532.9M655.9 553.5V558.9M657.1 526.7V530.2M657.1 553.1V559.0M658.5 523.6V530.0M658.5 553.4V558.6M660.5 523.0V531.6M660.5 553.7V561.4M661.6 525.3V530.4M661.6 554.2V560.2M663.0 525.5V531.0M663.0 554.9V559.9M664.7 523.1V532.6M664.7 553.5V562.7M572.0 366.6V373.5M570.7 370.0V373.5M569.1 367.6V373.5M567.7 367.9V373.5M566.4 366.6V373.5M564.8 368.6V373.5M563.2 367.0V373.5M561.0 368.4V373.5M583.0 368.0V373.5M584.1 368.8V373.5M586.2 367.4V373.5M587.2 367.1V373.5M588.7 366.6V373.5M590.1 369.6V373.5M591.8 367.0V373.5M593.3 367.0V373.5M747.3 526.2V531.5M747.3 554.8V559.5M748.7 524.7V531.8M748.7 555.6V562.4M750.0 526.1V530.4M750.0 555.8V561.1M751.4 526.6V531.6M751.4 553.2V558.1M753.0 524.3V532.5M753.0 553.3V562.1M754.6 524.6V532.6M754.6 554.9V558.6M756.1 523.5V530.6M756.1 553.5V559.4M757.9 527.6V531.1M757.9 556.0V558.1M759.9 527.1V531.2M759.9 554.5V559.4M761.4 524.9V531.3M761.4 555.7V561.3M763.5 524.5V531.3M763.5 553.7V558.4M765.7 527.7V531.4M765.7 554.7V558.0M767.8 523.9V531.3M767.8 554.3V559.7M769.9 527.0V530.3M769.9 554.1V560.0M770.9 523.3V531.7M770.9 555.7V560.6M772.2 525.7V531.6M772.2 555.1V562.3M774.4 524.7V530.6M774.4 555.1V560.6M776.4 527.3V531.9M776.4 554.9V560.7M778.4 523.5V532.2M778.4 555.4V562.3M779.4 525.8V530.6M779.4 553.4V559.6M780.7 523.9V530.4M780.7 553.3V562.7M782.2 526.9V530.1M782.2 554.5V558.9M783.6 523.7V530.2M783.6 554.8V562.2M785.1 527.1V530.8M785.1 553.9V559.3M786.5 527.4V531.3M786.5 554.3V559.1M787.8 524.5V532.0M787.8 554.2V559.1M789.0 524.2V531.6M789.0 554.2V560.0M790.8 525.8V532.4M790.8 553.4V558.3M792.4 525.1V532.7M792.4 553.9V559.3M793.6 523.9V531.0M793.6 553.0V562.9M700.8 369.8V373.5M698.9 369.1V373.5M697.1 368.2V373.5M695.9 368.4V373.5M693.9 368.6V373.5M692.3 367.0V373.5M690.7 368.5V373.5M711.8 367.2V373.5M713.0 370.1V373.5M715.0 368.3V373.5M716.3 366.9V373.5M718.4 368.3V373.5M720.6 367.2V373.5M722.5 369.3V373.5M876.0 524.6V531.1M876.0 554.6V561.7M877.7 526.8V531.7M877.7 554.8V561.5M878.9 525.2V532.2M878.9 555.5V559.6M880.3 527.0V531.7M880.3 555.7V560.0M881.4 525.6V531.5M881.4 555.5V559.0M882.5 525.3V532.6M882.5 554.5V562.6M884.0 527.7V530.9M884.0 553.2V559.4M885.1 523.3V531.3M885.1 555.2V560.4M887.3 527.1V531.5M887.3 555.4V560.9M888.6 523.1V532.2M888.6 553.3V562.0M889.7 524.5V530.7M889.7 554.6V561.8M891.8 526.4V530.5M891.8 554.0V561.8M893.2 525.5V532.6M893.2 553.8V559.9M894.8 524.6V532.4M894.8 555.2V560.1M896.4 525.1V530.1M896.4 555.5V559.9M898.2 526.9V531.5M898.2 553.1V561.8M900.2 524.4V530.1M900.2 554.3V559.9M902.1 523.4V530.5M902.1 553.1V559.0M904.0 525.6V530.4M904.0 554.4V561.7M905.8 525.0V530.4M905.8 554.1V558.8M907.9 527.3V530.2M907.9 553.6V558.0M909.3 525.7V531.8M909.3 555.2V563.0M911.2 528.0V532.1M911.2 555.5V559.4M912.2 525.4V532.9M912.2 555.7V559.6M914.2 526.1V531.3M914.2 554.0V562.0M915.6 526.9V532.4M915.6 555.0V560.3M916.8 525.9V530.9M916.8 554.3V558.5M918.5 525.0V530.1M918.5 555.9V559.5M919.9 527.0V530.8M919.9 553.7V560.8M921.6 524.7V531.6M921.6 554.7V561.7M829.5 370.2V373.5M827.6 368.5V373.5M826.5 366.8V373.5M824.8 368.0V373.5M823.3 370.0V373.5M821.1 369.8V373.5M819.6 366.5V373.5M818.5 368.5V373.5M840.5 369.5V373.5M842.7 368.8V373.5M843.7 368.6V373.5M844.7 367.7V373.5M846.7 366.9V373.5M847.8 367.8V373.5M849.1 368.6V373.5M850.5 369.3V373.5M851.7 368.0V373.5M1004.8 523.2V532.9M1004.8 555.4V558.2M1005.9 524.3V532.3M1005.9 554.5V560.7M1007.7 527.6V531.5M1007.7 553.1V561.4M1008.7 527.7V532.8M1008.7 554.7V561.4M1010.5 525.2V531.4M1010.5 554.2V560.0M1011.6 526.5V530.8M1011.6 554.6V561.7M1012.9 526.2V532.2M1012.9 553.1V561.3M1014.4 527.0V530.2M1014.4 555.3V559.7M1016.1 524.9V530.5M1016.1 555.7V559.2M1017.3 525.5V532.7M1017.3 554.3V559.3M1018.8 525.8V532.2M1018.8 553.7V558.2M1020.2 524.4V530.7M1020.2 555.3V559.4M1021.4 525.0V532.2M1021.4 555.7V561.2M1023.3 525.6V531.5M1023.3 554.7V559.9M1024.6 526.0V532.1M1024.6 553.3V561.2M1025.8 523.5V532.1M1025.8 553.1V562.0M1027.0 524.1V530.4M1027.0 554.2V562.5M1029.1 526.5V532.7M1029.1 554.7V562.3M1030.3 526.9V531.3M1030.3 555.1V562.1M1031.8 523.4V530.1M1031.8 553.2V559.3M1033.2 526.1V530.8M1033.2 555.7V562.9M1035.3 526.8V532.8M1035.3 555.3V559.1M1037.4 526.3V530.6M1037.4 554.4V559.5M1039.0 526.0V530.9M1039.0 553.5V560.5M1041.1 524.2V530.2M1041.1 555.2V562.1M1042.4 527.2V532.7M1042.4 553.3V562.8M1044.1 527.4V530.2M1044.1 553.3V560.1M1045.4 526.6V530.6M1045.4 553.2V562.7M1046.8 524.7V532.7M1046.8 554.8V558.5M1048.2 524.7V530.8M1048.2 555.6V561.0M1049.9 527.9V531.0M1049.9 555.5V562.4M1051.3 527.4V531.6M1051.3 554.8V559.6M958.3 369.3V373.5M956.7 367.4V373.5M955.2 367.4V373.5M953.6 370.0V373.5M952.4 367.1V373.5M950.8 369.0V373.5M949.2 367.1V373.5M947.8 369.1V373.5M969.3 370.5V373.5M971.0 368.6V373.5M972.5 368.7V373.5M974.1 367.6V373.5M975.3 366.6V373.5M976.5 367.0V373.5M977.7 367.3V373.5M979.0 370.2V373.5M980.6 367.1V373.5M1133.5 523.6V530.2M1133.5 554.9V562.9M1134.7 524.2V532.2M1134.7 553.6V560.3M1136.9 524.6V531.6M1136.9 555.8V562.4M1138.9 527.5V532.5M1138.9 555.2V558.4M1140.7 527.9V532.1M1140.7 555.9V559.1M1142.4 523.3V532.1M1142.4 553.8V559.1M1144.1 524.2V530.0M1144.1 555.4V561.5M1145.7 523.2V531.8M1145.7 555.6V559.1M1147.8 525.8V532.0M1147.8 555.6V560.6M1149.6 524.0V530.8M1149.6 555.3V562.3M1150.8 523.5V531.2M1150.8 554.4V560.2M1152.7 526.4V532.3M1152.7 553.7V559.7M1154.0 527.6V532.2M1154.0 554.2V562.6M1155.5 523.2V530.6M1155.5 555.7V560.2M1156.9 525.0V532.8M1156.9 554.1V559.8M1158.5 524.7V531.9M1158.5 554.5V561.0M1160.1 525.5V530.6M1160.1 553.6V562.2M1161.5 523.8V531.5M1161.5 554.7V558.4M1163.3 527.0V530.4M1163.3 554.3V559.3M1165.0 528.0V530.6M1165.0 553.1V558.9M1166.6 525.2V532.0M1166.6 553.6V559.4M1168.4 528.0V531.5M1168.4 555.9V560.2M1170.3 526.4V531.9M1170.3 554.2V559.5M1171.9 523.7V531.0M1171.9 555.8V560.6M1173.6 526.2V531.0M1173.6 556.0V560.7M1174.6 527.2V532.6M1174.6 554.3V558.5M1175.9 524.4V530.2M1175.9 553.7V561.2M1177.2 523.0V530.9M1177.2 555.3V558.7M1179.2 523.9V530.4M1179.2 554.7V560.9M1087.0 370.3V373.5M1084.9 367.1V373.5M1082.8 367.7V373.5M1081.1 366.6V373.5M1079.8 369.3V373.5M1078.6 369.8V373.5M1076.7 370.1V373.5M1098.0 368.9V373.5M1100.1 367.5V373.5M1101.9 367.1V373.5M1103.0 369.4V373.5M1104.4 368.8V373.5M1106.2 367.0V373.5M1108.1 366.8V373.5M1262.3 526.2V532.2M1262.3 553.6V560.5M1263.7 526.2V530.7M1263.7 553.4V561.1M1264.7 524.8V530.6M1264.7 554.3V560.4M1266.3 523.2V531.8M1266.3 553.4V562.4M1268.4 527.2V532.5M1268.4 553.0V562.1M1270.3 526.0V532.0M1270.3 555.4V559.0M1272.2 525.1V531.1M1272.2 555.1V562.1M1274.3 524.7V531.7M1274.3 554.7V559.9M1276.1 525.4V532.9M1276.1 553.3V559.4M1278.0 526.6V532.2M1278.0 553.5V559.0M1279.7 526.9V531.6M1279.7 554.9V561.6M1281.5 525.8V532.3M1281.5 553.1V561.2M1282.6 525.1V532.0M1282.6 554.3V562.7M1284.6 527.8V531.9M1284.6 554.2V562.0M1286.0 524.9V531.6M1286.0 555.2V558.6M1288.1 524.0V532.3M1288.1 554.8V560.4M1289.7 527.2V532.3M1289.7 553.7V562.3M1290.8 523.9V531.7M1290.8 554.5V558.1M1291.9 525.9V531.9M1291.9 555.1V562.4M1293.9 526.2V531.2M1293.9 555.8V562.5M1296.0 527.6V532.3M1296.0 555.7V559.3M1297.7 523.7V531.0M1297.7 553.7V560.9M1299.7 525.1V531.0M1299.7 554.8V561.1M1301.9 523.1V530.6M1301.9 555.3V558.0M1303.8 527.0V532.3M1303.8 555.5V558.8M1306.0 525.7V532.5M1306.0 555.4V562.5M1307.9 525.9V530.1M1307.9 553.9V559.1M1215.8 369.3V373.5M1213.8 369.7V373.5M1212.3 370.2V373.5M1210.8 367.0V373.5M1209.2 369.9V373.5M1208.0 367.9V373.5M1206.6 367.0V373.5M1205.6 367.0V373.5M1226.8 367.2V373.5M1228.2 370.2V373.5M1229.4 368.0V373.5M1230.5 370.1V373.5M1232.4 367.0V373.5M1234.4 367.2V373.5M1236.1 367.0V373.5M1237.9 368.3V373.5" stroke="#077474" stroke-width="1" fill="none"/></g>
<rect x="486" y="190" width="1.1" height="415" fill="#101010"/>
<polygon points="76.0,290.1 77.0,291.4 78.0,292.8 79.0,294.2 80.0,295.7 81.0,297.3 82.0,298.9 83.0,300.6 84.0,302.4 85.0,304.2 86.0,306.0 87.0,307.9 88.0,309.8 89.0,311.7 90.0,313.7 91.0,315.7 92.0,317.7 93.0,319.7 94.0,321.7 95.0,323.7 96.0,325.8 97.0,327.8 98.0,329.8 99.0,331.8 100.0,333.7 101.0,335.7 102.0,337.6 103.0,339.4 104.0,341.3 105.0,343.1 106.0,344.8 107.0,346.5 108.0,348.1 109.0,349.7 110.0,351.2 111.0,352.6 112.0,354.0 113.0,355.3 114.0,356.5 115.0,357.6 116.0,358.6 117.0,359.6 118.0,360.5 119.0,361.3 120.0,361.9 121.0,362.5 122.0,363.0 123.0,363.5 124.0,363.8 125.0,364.0 126.0,364.1 127.0,364.1 128.0,364.0 129.0,363.8 130.0,363.5 131.0,363.2 132.0,362.7 133.0,362.1 134.0,361.4 135.0,360.7 136.0,359.8 137.0,358.9 138.0,357.9 139.0,356.8 140.0,355.6 141.0,354.3 142.0,353.0 143.0,351.5 144.0,350.1 145.0,348.5 146.0,346.9 147.0,345.2 148.0,343.5 149.0,341.7 150.0,339.9 151.0,338.0 152.0,336.1 153.0,334.2 154.0,332.3 155.0,330.3 156.0,328.3 157.0,326.3 158.0,324.2 159.0,322.2 160.0,320.2 161.0,318.2 162.0,316.2 163.0,314.2 164.0,312.2 165.0,310.3 166.0,308.3 167.0,306.5 168.0,304.6 169.0,302.8 170.0,301.1 171.0,299.3 172.0,297.7 173.0,296.1 174.0,294.6 175.0,293.1 176.0,291.7 177.0,290.4 178.0,289.2 179.0,288.0 180.0,286.9 181.0,285.9 182.0,285.0 183.0,284.2 184.0,283.5 185.0,282.9 186.0,282.3 187.0,281.9 188.0,281.5 189.0,281.3 190.0,281.1 191.0,281.1 192.0,281.1 193.0,281.3 194.0,281.5 195.0,281.9 196.0,282.3 197.0,282.9 198.0,283.5 199.0,284.2 200.0,285.0 201.0,285.9 202.0,286.9 203.0,288.0 204.0,289.2 205.0,290.4 206.0,291.7 207.0,293.1 208.0,294.6 209.0,296.1 210.0,297.7 211.0,299.3 212.0,301.1 213.0,302.8 214.0,304.6 215.0,306.5 216.0,308.3 217.0,310.3 218.0,312.2 219.0,314.2 220.0,316.2 221.0,318.2 222.0,320.2 223.0,322.2 224.0,324.2 225.0,326.3 226.0,328.3 227.0,330.3 228.0,332.3 229.0,334.2 230.0,336.1 231.0,338.0 232.0,339.9 233.0,341.7 234.0,343.5 235.0,345.2 236.0,346.9 237.0,348.5 238.0,350.1 239.0,351.5 240.0,353.0 241.0,354.3 242.0,355.6 243.0,356.8 244.0,357.9 245.0,358.9 246.0,359.8 247.0,360.7 248.0,361.4 249.0,362.1 250.0,362.7 251.0,363.2 252.0,363.5 253.0,363.8 254.0,364.0 255.0,364.1 256.0,364.1 257.0,364.0 258.0,363.8 259.0,363.5 260.0,363.0 261.0,362.5 262.0,361.9 263.0,361.3 264.0,360.5 265.0,359.6 266.0,358.6 267.0,357.6 268.0,356.5 269.0,355.3 270.0,354.0 271.0,352.6 272.0,351.2 273.0,349.7 274.0,348.1 275.0,346.5 276.0,344.8 277.0,343.1 278.0,341.3 279.0,339.4 280.0,337.6 281.0,335.7 282.0,333.7 283.0,331.8 284.0,329.8 285.0,327.8 286.0,325.8 287.0,323.7 288.0,321.7 289.0,319.7 290.0,317.7 291.0,315.7 292.0,313.7 293.0,311.7 294.0,309.8 295.0,307.9 296.0,306.0 297.0,304.2 298.0,302.4 299.0,300.6 300.0,298.9 301.0,297.3 302.0,295.7 303.0,294.2 304.0,292.8 305.0,291.4 306.0,290.1 307.0,288.9 308.0,287.7 309.0,286.7 310.0,285.7 311.0,284.8 312.0,284.0 313.0,283.3 314.0,282.7 315.0,282.2 316.0,281.8 317.0,281.5 318.0,281.3 319.0,281.1 320.0,281.1 321.0,281.2 322.0,281.3 323.0,281.6 324.0,282.0 325.0,282.5 326.0,283.0 327.0,283.7 328.0,284.4 329.0,285.3 330.0,286.2 331.0,287.2 332.0,288.3 333.0,289.5 334.0,290.7 335.0,292.1 336.0,293.5 337.0,295.0 338.0,296.5 339.0,298.1 340.0,299.8 341.0,301.5 342.0,303.3 343.0,305.1 344.0,306.9 345.0,308.8 346.0,310.7 347.0,312.7 348.0,314.7 349.0,316.7 350.0,318.7 351.0,320.7 352.0,322.7 353.0,324.8 354.0,326.8 355.0,328.8 356.0,330.8 357.0,332.7 358.0,334.7 359.0,336.6 360.0,338.5 361.0,340.4 362.0,342.2 363.0,343.9 364.0,345.6 365.0,347.3 366.0,348.9 367.0,350.4 368.0,351.9 369.0,353.3 370.0,354.6 371.0,355.9 372.0,357.0 373.0,358.1 374.0,359.1 375.0,360.1 376.0,360.9 377.0,361.6 378.0,362.3 379.0,362.8 380.0,363.3 381.0,363.6 382.0,363.9 383.0,364.0 384.0,364.1 385.0,364.1 386.0,363.9 387.0,363.7 388.0,363.4 389.0,362.9 390.0,362.4 391.0,361.8 392.0,361.1 393.0,360.3 394.0,359.4 395.0,358.4 396.0,357.3 397.0,356.2 398.0,354.9 399.0,353.6 400.0,352.3 401.0,350.8 402.0,349.3 403.0,347.7 404.0,346.1 405.0,344.4 406.0,342.6 407.0,340.8 408.0,339.0 409.0,337.1 410.0,335.2 411.0,333.2 412.0,331.3 413.0,329.3 414.0,327.3 415.0,325.3 416.0,323.2 417.0,321.2 418.0,319.2 419.0,317.2 420.0,315.2 421.0,313.2 422.0,311.2 423.0,309.3 424.0,307.4 425.0,305.5 426.0,303.7 427.0,301.9 428.0,300.2 429.0,298.5 430.0,296.9 431.0,295.3 432.0,293.8 433.0,292.4 434.0,291.1 435.0,289.8 436.0,288.6 437.0,287.5 438.0,286.4 439.0,285.5 440.0,284.6 441.0,283.8 442.0,283.2 443.0,282.6 444.0,282.1 445.0,281.7 446.0,281.4 447.0,281.2 448.0,281.1 449.0,281.1 450.0,281.2 451.0,281.4 452.0,281.7 453.0,282.1 454.0,282.6 455.0,283.2 456.0,283.8 457.0,284.6 458.0,285.5 459.0,286.4 460.0,287.5 461.0,288.6 462.0,289.8 463.0,291.1 464.0,292.4 465.0,293.8 466.0,295.3 467.0,296.9 468.0,298.5 469.0,300.2 470.0,301.9 471.0,303.7 472.0,305.5 473.0,307.4 474.0,309.3 475.0,311.2 476.0,313.2 477.0,315.2 478.0,317.2 479.0,319.2 480.0,321.2 481.0,323.2 482.0,325.3 483.0,327.3 484.0,329.3 485.0,331.3 486.0,333.2 487.0,335.2 488.0,337.1 489.0,339.0 490.0,340.8 491.0,342.6 492.0,344.4 493.0,346.1 494.0,347.7 495.0,349.3 496.0,350.8 497.0,352.3 498.0,353.6 499.0,354.9 500.0,356.2 501.0,357.3 502.0,358.4 503.0,359.4 504.0,360.3 505.0,361.1 506.0,361.8 507.0,362.4 508.0,362.9 509.0,363.4 510.0,363.7 511.0,363.9 512.0,364.1 513.0,364.1 514.0,364.0 515.0,363.9 516.0,363.6 517.0,363.3 518.0,362.8 519.0,362.3 520.0,361.6 521.0,360.9 522.0,360.1 523.0,359.1 524.0,358.1 525.0,357.0 526.0,355.9 527.0,354.6 528.0,353.3 529.0,351.9 530.0,350.4 531.0,348.9 532.0,347.3 533.0,345.6 534.0,343.9 535.0,342.2 536.0,340.4 537.0,338.5 538.0,336.6 539.0,334.7 540.0,332.7 541.0,330.8 542.0,328.8 543.0,326.8 544.0,324.8 545.0,322.7 546.0,320.7 547.0,318.7 548.0,316.7 549.0,314.7 550.0,312.7 551.0,310.7 552.0,308.8 553.0,306.9 554.0,305.1 555.0,303.3 556.0,301.5 557.0,299.8 558.0,298.1 559.0,296.5 560.0,295.0 561.0,293.5 562.0,292.1 563.0,290.7 564.0,289.5 565.0,288.3 566.0,287.2 567.0,286.2 568.0,285.3 569.0,284.4 570.0,283.7 571.0,283.0 572.0,282.5 573.0,282.0 574.0,281.6 575.0,281.3 576.0,281.2 577.0,281.1 578.0,281.1 579.0,281.3 580.0,281.5 581.0,281.8 582.0,282.2 583.0,282.7 584.0,283.3 585.0,284.0 586.0,284.8 587.0,285.7 588.0,286.7 589.0,287.7 590.0,288.9 591.0,290.1 592.0,291.4 593.0,292.8 594.0,294.2 595.0,295.7 596.0,297.3 597.0,298.9 598.0,300.6 599.0,302.4 600.0,304.2 601.0,306.0 602.0,307.9 603.0,309.8 604.0,311.7 605.0,313.7 606.0,315.7 607.0,317.7 608.0,319.7 609.0,321.7 610.0,323.7 611.0,325.8 612.0,327.8 613.0,329.8 614.0,331.8 615.0,333.7 616.0,335.7 617.0,337.6 618.0,339.4 619.0,341.3 620.0,343.1 621.0,344.8 622.0,346.5 623.0,348.1 624.0,349.7 625.0,351.2 626.0,352.6 627.0,354.0 628.0,355.3 629.0,356.5 630.0,357.6 631.0,358.6 632.0,359.6 633.0,360.5 634.0,361.3 635.0,361.9 636.0,362.5 637.0,363.0 638.0,363.5 639.0,363.8 640.0,364.0 641.0,364.1 642.0,364.1 643.0,364.0 644.0,363.8 645.0,363.5 646.0,363.2 647.0,362.7 648.0,362.1 649.0,361.4 650.0,360.7 651.0,359.8 652.0,358.9 653.0,357.9 654.0,356.8 655.0,355.6 656.0,354.3 657.0,353.0 658.0,351.5 659.0,350.1 660.0,348.5 661.0,346.9 662.0,345.2 663.0,343.5 664.0,341.7 665.0,339.9 666.0,338.0 667.0,336.1 668.0,334.2 669.0,332.3 670.0,330.3 671.0,328.3 672.0,326.3 673.0,324.2 674.0,322.2 675.0,320.2 676.0,318.2 677.0,316.2 678.0,314.2 679.0,312.2 680.0,310.3 681.0,308.3 682.0,306.5 683.0,304.6 684.0,302.8 685.0,301.1 686.0,299.3 687.0,297.7 688.0,296.1 689.0,294.6 690.0,293.1 691.0,291.7 692.0,290.4 693.0,289.2 694.0,288.0 695.0,286.9 696.0,285.9 697.0,285.0 698.0,284.2 699.0,283.5 700.0,282.9 701.0,282.3 702.0,281.9 703.0,281.5 704.0,281.3 705.0,281.1 706.0,281.1 707.0,281.1 708.0,281.3 709.0,281.5 710.0,281.9 711.0,282.3 712.0,282.9 713.0,283.5 714.0,284.2 715.0,285.0 716.0,285.9 717.0,286.9 718.0,288.0 719.0,289.2 720.0,290.4 721.0,291.7 722.0,293.1 723.0,294.6 724.0,296.1 725.0,297.7 726.0,299.3 727.0,301.1 728.0,302.8 729.0,304.6 730.0,306.5 731.0,308.3 732.0,310.3 733.0,312.2 734.0,314.2 735.0,316.2 736.0,318.2 737.0,320.2 738.0,322.2 739.0,324.2 740.0,326.3 741.0,328.3 742.0,330.3 743.0,332.3 744.0,334.2 745.0,336.1 746.0,338.0 747.0,339.9 748.0,341.7 749.0,343.5 750.0,345.2 751.0,346.9 752.0,348.5 753.0,350.1 754.0,351.5 755.0,353.0 756.0,354.3 757.0,355.6 758.0,356.8 759.0,357.9 760.0,358.9 761.0,359.8 762.0,360.7 763.0,361.4 764.0,362.1 765.0,362.7 766.0,363.2 767.0,363.5 768.0,363.8 769.0,364.0 770.0,364.1 771.0,364.1 772.0,364.0 773.0,363.8 774.0,363.5 775.0,363.0 776.0,362.5 777.0,361.9 778.0,361.3 779.0,360.5 780.0,359.6 781.0,358.6 782.0,357.6 783.0,356.5 784.0,355.3 785.0,354.0 786.0,352.6 787.0,351.2 788.0,349.7 789.0,348.1 790.0,346.5 791.0,344.8 792.0,343.1 793.0,341.3 794.0,339.4 795.0,337.6 796.0,335.7 797.0,333.7 798.0,331.8 799.0,329.8 800.0,327.8 801.0,325.8 802.0,323.7 803.0,321.7 804.0,319.7 805.0,317.7 806.0,315.7 807.0,313.7 808.0,311.7 809.0,309.8 810.0,307.9 811.0,306.0 812.0,304.2 813.0,302.4 814.0,300.6 815.0,298.9 816.0,297.3 817.0,295.7 818.0,294.2 819.0,292.8 820.0,291.4 821.0,290.1 822.0,288.9 823.0,287.7 824.0,286.7 825.0,285.7 826.0,284.8 827.0,284.0 828.0,283.3 829.0,282.7 830.0,282.2 831.0,281.8 832.0,281.5 833.0,281.3 834.0,281.1 835.0,281.1 836.0,281.2 837.0,281.3 838.0,281.6 839.0,282.0 840.0,282.5 841.0,283.0 842.0,283.7 843.0,284.4 844.0,285.3 845.0,286.2 846.0,287.2 847.0,288.3 848.0,289.5 849.0,290.7 850.0,292.1 851.0,293.5 852.0,295.0 853.0,296.5 854.0,298.1 855.0,299.8 856.0,301.5 857.0,303.3 858.0,305.1 859.0,306.9 860.0,308.8 861.0,310.7 862.0,312.7 863.0,314.7 864.0,316.7 865.0,318.7 866.0,320.7 867.0,322.7 868.0,324.8 869.0,326.8 870.0,328.8 871.0,330.8 872.0,332.7 873.0,334.7 874.0,336.6 875.0,338.5 876.0,340.4 877.0,342.2 878.0,343.9 879.0,345.6 880.0,347.3 881.0,348.9 882.0,350.4 883.0,351.9 884.0,353.3 885.0,354.6 886.0,355.9 887.0,357.0 888.0,358.1 889.0,359.1 890.0,360.1 891.0,360.9 892.0,361.6 893.0,362.3 894.0,362.8 895.0,363.3 896.0,363.6 897.0,363.9 897.0,378.7 896.0,378.4 895.0,378.1 894.0,377.6 893.0,377.1 892.0,376.4 891.0,375.7 890.0,374.9 889.0,373.9 888.0,372.9 887.0,371.8 886.0,370.7 885.0,369.4 884.0,368.1 883.0,366.7 882.0,365.2 881.0,363.7 880.0,362.1 879.0,360.4 878.0,358.7 877.0,357.0 876.0,355.2 875.0,353.3 874.0,351.4 873.0,349.5 872.0,347.5 871.0,345.6 870.0,343.6 869.0,341.6 868.0,339.6 867.0,337.5 866.0,335.5 865.0,333.5 864.0,331.5 863.0,329.5 862.0,327.5 861.0,325.5 860.0,323.6 859.0,321.7 858.0,319.9 857.0,318.1 856.0,316.3 855.0,314.6 854.0,312.9 853.0,311.3 852.0,309.8 851.0,308.3 850.0,306.9 849.0,305.5 848.0,304.3 847.0,303.1 846.0,302.0 845.0,301.0 844.0,300.1 843.0,299.2 842.0,298.5 841.0,297.8 840.0,297.3 839.0,296.8 838.0,296.4 837.0,296.1 836.0,296.0 835.0,295.9 834.0,295.9 833.0,296.1 832.0,296.3 831.0,296.6 830.0,297.0 829.0,297.5 828.0,298.1 827.0,298.8 826.0,299.6 825.0,300.5 824.0,301.5 823.0,302.5 822.0,303.7 821.0,304.9 820.0,306.2 819.0,307.6 818.0,309.0 817.0,310.5 816.0,312.1 815.0,313.7 814.0,315.4 813.0,317.2 812.0,319.0 811.0,320.8 810.0,322.7 809.0,324.6 808.0,326.5 807.0,328.5 806.0,330.5 805.0,332.5 804.0,334.5 803.0,336.5 802.0,338.5 801.0,340.6 800.0,342.6 799.0,344.6 798.0,346.6 797.0,348.5 796.0,350.5 795.0,352.4 794.0,354.2 793.0,356.1 792.0,357.9 791.0,359.6 790.0,361.3 789.0,362.9 788.0,364.5 787.0,366.0 786.0,367.4 785.0,368.8 784.0,370.1 783.0,371.3 782.0,372.4 781.0,373.4 780.0,374.4 779.0,375.3 778.0,376.1 777.0,376.7 776.0,377.3 775.0,377.8 774.0,378.3 773.0,378.6 772.0,378.8 771.0,378.9 770.0,378.9 769.0,378.8 768.0,378.6 767.0,378.3 766.0,378.0 765.0,377.5 764.0,376.9 763.0,376.2 762.0,375.5 761.0,374.6 760.0,373.7 759.0,372.7 758.0,371.6 757.0,370.4 756.0,369.1 755.0,367.8 754.0,366.3 753.0,364.9 752.0,363.3 751.0,361.7 750.0,360.0 749.0,358.3 748.0,356.5 747.0,354.7 746.0,352.8 745.0,350.9 744.0,349.0 743.0,347.1 742.0,345.1 741.0,343.1 740.0,341.1 739.0,339.0 738.0,337.0 737.0,335.0 736.0,333.0 735.0,331.0 734.0,329.0 733.0,327.0 732.0,325.1 731.0,323.1 730.0,321.3 729.0,319.4 728.0,317.6 727.0,315.9 726.0,314.1 725.0,312.5 724.0,310.9 723.0,309.4 722.0,307.9 721.0,306.5 720.0,305.2 719.0,304.0 718.0,302.8 717.0,301.7 716.0,300.7 715.0,299.8 714.0,299.0 713.0,298.3 712.0,297.7 711.0,297.1 710.0,296.7 709.0,296.3 708.0,296.1 707.0,295.9 706.0,295.9 705.0,295.9 704.0,296.1 703.0,296.3 702.0,296.7 701.0,297.1 700.0,297.7 699.0,298.3 698.0,299.0 697.0,299.8 696.0,300.7 695.0,301.7 694.0,302.8 693.0,304.0 692.0,305.2 691.0,306.5 690.0,307.9 689.0,309.4 688.0,310.9 687.0,312.5 686.0,314.1 685.0,315.9 684.0,317.6 683.0,319.4 682.0,321.3 681.0,323.1 680.0,325.1 679.0,327.0 678.0,329.0 677.0,331.0 676.0,333.0 675.0,335.0 674.0,337.0 673.0,339.0 672.0,341.1 671.0,343.1 670.0,345.1 669.0,347.1 668.0,349.0 667.0,350.9 666.0,352.8 665.0,354.7 664.0,356.5 663.0,358.3 662.0,360.0 661.0,361.7 660.0,363.3 659.0,364.9 658.0,366.3 657.0,367.8 656.0,369.1 655.0,370.4 654.0,371.6 653.0,372.7 652.0,373.7 651.0,374.6 650.0,375.5 649.0,376.2 648.0,376.9 647.0,377.5 646.0,378.0 645.0,378.3 644.0,378.6 643.0,378.8 642.0,378.9 641.0,378.9 640.0,378.8 639.0,378.6 638.0,378.3 637.0,377.8 636.0,377.3 635.0,376.7 634.0,376.1 633.0,375.3 632.0,374.4 631.0,373.4 630.0,372.4 629.0,371.3 628.0,370.1 627.0,368.8 626.0,367.4 625.0,366.0 624.0,364.5 623.0,362.9 622.0,361.3 621.0,359.6 620.0,357.9 619.0,356.1 618.0,354.2 617.0,352.4 616.0,350.5 615.0,348.5 614.0,346.6 613.0,344.6 612.0,342.6 611.0,340.6 610.0,338.5 609.0,336.5 608.0,334.5 607.0,332.5 606.0,330.5 605.0,328.5 604.0,326.5 603.0,324.6 602.0,322.7 601.0,320.8 600.0,319.0 599.0,317.2 598.0,315.4 597.0,313.7 596.0,312.1 595.0,310.5 594.0,309.0 593.0,307.6 592.0,306.2 591.0,304.9 590.0,303.7 589.0,302.5 588.0,301.5 587.0,300.5 586.0,299.6 585.0,298.8 584.0,298.1 583.0,297.5 582.0,297.0 581.0,296.6 580.0,296.3 579.0,296.1 578.0,295.9 577.0,295.9 576.0,296.0 575.0,296.1 574.0,296.4 573.0,296.8 572.0,297.3 571.0,297.8 570.0,298.5 569.0,299.2 568.0,300.1 567.0,301.0 566.0,302.0 565.0,303.1 564.0,304.3 563.0,305.5 562.0,306.9 561.0,308.3 560.0,309.8 559.0,311.3 558.0,312.9 557.0,314.6 556.0,316.3 555.0,318.1 554.0,319.9 553.0,321.7 552.0,323.6 551.0,325.5 550.0,327.5 549.0,329.5 548.0,331.5 547.0,333.5 546.0,335.5 545.0,337.5 544.0,339.6 543.0,341.6 542.0,343.6 541.0,345.6 540.0,347.5 539.0,349.5 538.0,351.4 537.0,353.3 536.0,355.2 535.0,357.0 534.0,358.7 533.0,360.4 532.0,362.1 531.0,363.7 530.0,365.2 529.0,366.7 528.0,368.1 527.0,369.4 526.0,370.7 525.0,371.8 524.0,372.9 523.0,373.9 522.0,374.9 521.0,375.7 520.0,376.4 519.0,377.1 518.0,377.6 517.0,378.1 516.0,378.4 515.0,378.7 514.0,378.8 513.0,378.9 512.0,378.9 511.0,378.7 510.0,378.5 509.0,378.2 508.0,377.7 507.0,377.2 506.0,376.6 505.0,375.9 504.0,375.1 503.0,374.2 502.0,373.2 501.0,372.1 500.0,371.0 499.0,369.7 498.0,368.4 497.0,367.1 496.0,365.6 495.0,364.1 494.0,362.5 493.0,360.9 492.0,359.2 491.0,357.4 490.0,355.6 489.0,353.8 488.0,351.9 487.0,350.0 486.0,348.0 485.0,346.1 484.0,344.1 483.0,342.1 482.0,340.1 481.0,338.0 480.0,336.0 479.0,334.0 478.0,332.0 477.0,330.0 476.0,328.0 475.0,326.0 474.0,324.1 473.0,322.2 472.0,320.3 471.0,318.5 470.0,316.7 469.0,315.0 468.0,313.3 467.0,311.7 466.0,310.1 465.0,308.6 464.0,307.2 463.0,305.9 462.0,304.6 461.0,303.4 460.0,302.3 459.0,301.2 458.0,300.3 457.0,299.4 456.0,298.6 455.0,298.0 454.0,297.4 453.0,296.9 452.0,296.5 451.0,296.2 450.0,296.0 449.0,295.9 448.0,295.9 447.0,296.0 446.0,296.2 445.0,296.5 444.0,296.9 443.0,297.4 442.0,298.0 441.0,298.6 440.0,299.4 439.0,300.3 438.0,301.2 437.0,302.3 436.0,303.4 435.0,304.6 434.0,305.9 433.0,307.2 432.0,308.6 431.0,310.1 430.0,311.7 429.0,313.3 428.0,315.0 427.0,316.7 426.0,318.5 425.0,320.3 424.0,322.2 423.0,324.1 422.0,326.0 421.0,328.0 420.0,330.0 419.0,332.0 418.0,334.0 417.0,336.0 416.0,338.0 415.0,340.1 414.0,342.1 413.0,344.1 412.0,346.1 411.0,348.0 410.0,350.0 409.0,351.9 408.0,353.8 407.0,355.6 406.0,357.4 405.0,359.2 404.0,360.9 403.0,362.5 402.0,364.1 401.0,365.6 400.0,367.1 399.0,368.4 398.0,369.7 397.0,371.0 396.0,372.1 395.0,373.2 394.0,374.2 393.0,375.1 392.0,375.9 391.0,376.6 390.0,377.2 389.0,377.7 388.0,378.2 387.0,378.5 386.0,378.7 385.0,378.9 384.0,378.9 383.0,378.8 382.0,378.7 381.0,378.4 380.0,378.1 379.0,377.6 378.0,377.1 377.0,376.4 376.0,375.7 375.0,374.9 374.0,373.9 373.0,372.9 372.0,371.8 371.0,370.7 370.0,369.4 369.0,368.1 368.0,366.7 367.0,365.2 366.0,363.7 365.0,362.1 364.0,360.4 363.0,358.7 362.0,357.0 361.0,355.2 360.0,353.3 359.0,351.4 358.0,349.5 357.0,347.5 356.0,345.6 355.0,343.6 354.0,341.6 353.0,339.6 352.0,337.5 351.0,335.5 350.0,333.5 349.0,331.5 348.0,329.5 347.0,327.5 346.0,325.5 345.0,323.6 344.0,321.7 343.0,319.9 342.0,318.1 341.0,316.3 340.0,314.6 339.0,312.9 338.0,311.3 337.0,309.8 336.0,308.3 335.0,306.9 334.0,305.5 333.0,304.3 332.0,303.1 331.0,302.0 330.0,301.0 329.0,300.1 328.0,299.2 327.0,298.5 326.0,297.8 325.0,297.3 324.0,296.8 323.0,296.4 322.0,296.1 321.0,296.0 320.0,295.9 319.0,295.9 318.0,296.1 317.0,296.3 316.0,296.6 315.0,297.0 314.0,297.5 313.0,298.1 312.0,298.8 311.0,299.6 310.0,300.5 309.0,301.5 308.0,302.5 307.0,303.7 306.0,304.9 305.0,306.2 304.0,307.6 303.0,309.0 302.0,310.5 301.0,312.1 300.0,313.7 299.0,315.4 298.0,317.2 297.0,319.0 296.0,320.8 295.0,322.7 294.0,324.6 293.0,326.5 292.0,328.5 291.0,330.5 290.0,332.5 289.0,334.5 288.0,336.5 287.0,338.5 286.0,340.6 285.0,342.6 284.0,344.6 283.0,346.6 282.0,348.5 281.0,350.5 280.0,352.4 279.0,354.2 278.0,356.1 277.0,357.9 276.0,359.6 275.0,361.3 274.0,362.9 273.0,364.5 272.0,366.0 271.0,367.4 270.0,368.8 269.0,370.1 268.0,371.3 267.0,372.4 266.0,373.4 265.0,374.4 264.0,375.3 263.0,376.1 262.0,376.7 261.0,377.3 260.0,377.8 259.0,378.3 258.0,378.6 257.0,378.8 256.0,378.9 255.0,378.9 254.0,378.8 253.0,378.6 252.0,378.3 251.0,378.0 250.0,377.5 249.0,376.9 248.0,376.2 247.0,375.5 246.0,374.6 245.0,373.7 244.0,372.7 243.0,371.6 242.0,370.4 241.0,369.1 240.0,367.8 239.0,366.3 238.0,364.9 237.0,363.3 236.0,361.7 235.0,360.0 234.0,358.3 233.0,356.5 232.0,354.7 231.0,352.8 230.0,350.9 229.0,349.0 228.0,347.1 227.0,345.1 226.0,343.1 225.0,341.1 224.0,339.0 223.0,337.0 222.0,335.0 221.0,333.0 220.0,331.0 219.0,329.0 218.0,327.0 217.0,325.1 216.0,323.1 215.0,321.3 214.0,319.4 213.0,317.6 212.0,315.9 211.0,314.1 210.0,312.5 209.0,310.9 208.0,309.4 207.0,307.9 206.0,306.5 205.0,305.2 204.0,304.0 203.0,302.8 202.0,301.7 201.0,300.7 200.0,299.8 199.0,299.0 198.0,298.3 197.0,297.7 196.0,297.1 195.0,296.7 194.0,296.3 193.0,296.1 192.0,295.9 191.0,295.9 190.0,295.9 189.0,296.1 188.0,296.3 187.0,296.7 186.0,297.1 185.0,297.7 184.0,298.3 183.0,299.0 182.0,299.8 181.0,300.7 180.0,301.7 179.0,302.8 178.0,304.0 177.0,305.2 176.0,306.5 175.0,307.9 174.0,309.4 173.0,310.9 172.0,312.5 171.0,314.1 170.0,315.9 169.0,317.6 168.0,319.4 167.0,321.3 166.0,323.1 165.0,325.1 164.0,327.0 163.0,329.0 162.0,331.0 161.0,333.0 160.0,335.0 159.0,337.0 158.0,339.0 157.0,341.1 156.0,343.1 155.0,345.1 154.0,347.1 153.0,349.0 152.0,350.9 151.0,352.8 150.0,354.7 149.0,356.5 148.0,358.3 147.0,360.0 146.0,361.7 145.0,363.3 144.0,364.9 143.0,366.3 142.0,367.8 141.0,369.1 140.0,370.4 139.0,371.6 138.0,372.7 137.0,373.7 136.0,374.6 135.0,375.5 134.0,376.2 133.0,376.9 132.0,377.5 131.0,378.0 130.0,378.3 129.0,378.6 128.0,378.8 127.0,378.9 126.0,378.9 125.0,378.8 124.0,378.6 123.0,378.3 122.0,377.8 121.0,377.3 120.0,376.7 119.0,376.1 118.0,375.3 117.0,374.4 116.0,373.4 115.0,372.4 114.0,371.3 113.0,370.1 112.0,368.8 111.0,367.4 110.0,366.0 109.0,364.5 108.0,362.9 107.0,361.3 106.0,359.6 105.0,357.9 104.0,356.1 103.0,354.2 102.0,352.4 101.0,350.5 100.0,348.5 99.0,346.6 98.0,344.6 97.0,342.6 96.0,340.6 95.0,338.5 94.0,336.5 93.0,334.5 92.0,332.5 91.0,330.5 90.0,328.5 89.0,326.5 88.0,324.6 87.0,322.7 86.0,320.8 85.0,319.0 84.0,317.2 83.0,315.4 82.0,313.7 81.0,312.1 80.0,310.5 79.0,309.0 78.0,307.6 77.0,306.2 76.0,304.9" fill="#00ec00" stroke="#00a000" stroke-width="1"/>
</g>
<rect x="77" y="386" width="818" height="1.2" fill="#000"/>
<path d="M77 167h819v439h-819z" fill="none" stroke="#000" stroke-width="0"/>
<rect x="77" y="167" width="819" height="2" fill="#000"/><rect x="77" y="604" width="819" height="2" fill="#000"/><rect x="894" y="167" width="2" height="439" fill="#000"/><rect x="77" y="167" width="1.3" height="439" fill="#000"/>
<text x="55.5" y="165.6" class="ser" font-size="20" font-weight="bold" fill="#000" textLength="33.5" lengthAdjust="spacingAndGlyphs">Tek</text>
<text x="92" y="164.5" font-size="18" fill="#000" stroke="#cccccc" stroke-width="0.4" textLength="32.5" lengthAdjust="spacingAndGlyphs">Stop</text>
<rect x="309" y="151" width="358" height="15" fill="#fffaf5"/>
<rect x="309" y="157.3" width="357" height="1.6" fill="#30c0c0"/>
<path d="M310.5 151.5h-1.5v14h1.5M665 151.5h1.5v14h-1.5" fill="none" stroke="#909090" stroke-width="1"/>
<path d="M481.5 150.5h10l-5 4z" fill="#f5a020"/>
<path d="M482.3 155h8.2v14.5l-4.1 4.5l-4.1-4.5z" fill="#f5a020" stroke="#202020" stroke-width="0.6"/>
<path d="M484.3 156.5h4.2v1.6h-1.3v10h-1.6v-10h-1.3z" fill="#fff5d0"/>
<path d="M481.3 176.5h12.6v9.5l-6.3 4.7l-6.3-4.7z" fill="#f5a020"/>
<path d="M483.5 178.2h8.2v2.6h-2.8v8h-2.6v-8h-2.8z" fill="#fff5d0"/>
<path d="M55.8 323.8h12.3l8.4 8.4l-8.4 8.4h-12.3z" fill="#fff" stroke="#108a10" stroke-width="1.4"/>
<text x="58.8" y="337.8" font-size="14" fill="#108a10" font-weight="bold">4</text>
<path d="M55.5 541.8h12.6l9 8.6l-9 8.8h-12.6z" fill="#20d8e0"/>
<path d="M68.1 541.8l9 8.6l-9 8.8" fill="none" stroke="#104040" stroke-width="1"/>
<text x="58.8" y="556" font-size="14" fill="#fff" font-weight="bold">2</text>
<path d="M882.5 506.5l9-5.5v3.8h4v3.4h-4v3.8z" fill="#40c8d0"/>
<rect x="77.9" y="608.5" width="349" height="41" rx="6" fill="#fff" stroke="#202020" stroke-width="1.1"/>
<rect x="430.5" y="608.5" width="369" height="41" rx="6" fill="#fff" stroke="#202020" stroke-width="1.1"/>
<rect x="802.5" y="608.5" width="121" height="41" rx="6" fill="#fff" stroke="#202020" stroke-width="1.1"/>
<rect x="82.8" y="611" width="28" height="16.7" rx="8.35" fill="#1c1cf0"/><text x="96.8" y="625.4000000000001" font-size="17" font-weight="bold" text-anchor="middle" fill="#101040">1</text>
<rect x="82.8" y="630.8" width="28" height="16.7" rx="8.35" fill="#9a00b0"/><text x="96.8" y="645.2" font-size="17" font-weight="bold" text-anchor="middle" fill="#301030">3</text>
<rect x="258" y="611.5" width="27" height="16" rx="8.0" fill="#30d8e8"/><text x="271.5" y="625.2" font-size="17" font-weight="bold" text-anchor="middle" fill="#102020">2</text>
<rect x="258" y="631.5" width="27" height="16" rx="8.0" fill="#14901e"/><text x="271.5" y="645.2" font-size="17" font-weight="bold" text-anchor="middle" fill="#102010">4</text>
<rect x="701.7" y="611" width="27" height="15.5" rx="7.75" fill="#30d8e8"/><text x="715.2" y="624.2" font-size="17" font-weight="bold" text-anchor="middle" fill="#102020">2</text>
<text x="128.8" y="624.7" font-size="15.8" fill="#2828a0" textLength="46" lengthAdjust="spacingAndGlyphs">2.00 V</text>
<text x="128.8" y="644.5" font-size="15.8" fill="#70207a" textLength="46" lengthAdjust="spacingAndGlyphs">2.00 V</text>
<text x="302" y="624.7" font-size="15.8" fill="#40c0d0" textLength="46.7" lengthAdjust="spacingAndGlyphs">2.00 V</text>
<text x="302" y="644.5" font-size="15.8" fill="#208a20" textLength="49" lengthAdjust="spacingAndGlyphs">500mA</text>
<text x="385.5" y="641" font-size="8" fill="#208a20">B</text><text x="388.5" y="645.5" font-size="10" fill="#208a20">W</text>
<text x="436" y="624.5" font-size="15.8" fill="#262626" textLength="49.4" lengthAdjust="spacingAndGlyphs">20.0ms</text>
<text x="585.3" y="625" font-size="15.8" fill="#262626" textLength="68.2" lengthAdjust="spacingAndGlyphs">25.0MS/s</text>
<text x="585.3" y="644.3" font-size="15.8" fill="#262626" textLength="66.7" lengthAdjust="spacingAndGlyphs">5M points</text>
<rect x="435.2" y="632.9" width="12" height="12" rx="1.5" fill="#f0a028"/><path d="M437.8 635.2h6.8v2h-2.4v6h-2v-6h-2.4z" fill="#fff"/>
<path d="M448 639h8m-3 -3l3 3l-3 3" fill="none" stroke="#f0a028" stroke-width="1.6"/>
<path d="M460.7 635.5h10.3l-5.15 5.8z" fill="#f0a028"/>
<text x="473.4" y="644.1" font-size="15.8" fill="#f0a028" textLength="84.5" lengthAdjust="spacingAndGlyphs">−200.000µs</text>
<path d="M744.8 625.5h3.2l4.6 -11.5h3" fill="none" stroke="#101010" stroke-width="1.1"/>
<text x="717.9" y="644.2" font-size="15.8" fill="#262626" textLength="45.7" lengthAdjust="spacingAndGlyphs">1.64 V</text>
<text x="818.8" y="625" font-size="15.8" fill="#262626" textLength="37.7" lengthAdjust="spacingAndGlyphs">5 Feb</text>
<text x="884.8" y="625" font-size="15.8" fill="#262626" textLength="32.2" lengthAdjust="spacingAndGlyphs">2016</text>
<text x="810.7" y="644.2" font-size="15.8" fill="#262626" textLength="72.7" lengthAdjust="spacingAndGlyphs">09: 06: 47</text>
<!-- legend -->
<text x="227" y="698.6" font-size="21.8" font-weight="bold" fill="#1e00e6" textLength="90.7" lengthAdjust="spacingAndGlyphs">CH1: VB</text>
<text x="345.9" y="698.6" font-size="21.8" font-weight="bold" fill="#00b0f0" textLength="89.7" lengthAdjust="spacingAndGlyphs">CH2: VA</text>
<text x="463.7" y="698.6" font-size="21.8" font-weight="bold" fill="#dc00dc" textLength="89.8" lengthAdjust="spacingAndGlyphs">CH3: VC</text>
<text x="580.9" y="698.6" font-size="21.8" font-weight="bold" fill="#008000" textLength="117.9" lengthAdjust="spacingAndGlyphs">CH4: IoutA</text>
<rect x="750.5" y="658.4" width="174.5" height="14" fill="#d8d8d8"/><text x="908" y="669.7" class="ser" font-size="12.5" fill="#a0a0a0" textLength="85" lengthAdjust="spacingAndGlyphs">0755-27933516</text><text x="757" y="703.5" font-size="40" font-weight="bold" fill="#b8b8b8" fill-opacity="0.6" textLength="99.5" lengthAdjust="spacingAndGlyphs">YuCan</text><text x="755.7" y="702.5" font-size="40" font-weight="bold" fill="#a8d0ee" textLength="99.5" lengthAdjust="spacingAndGlyphs">YuCan</text><path d="M852.5 675.5c0 -6 3 -11 7.5 -14c-1 5 -3 10 -7.5 14z" fill="#f0a898"/><path d="M855 676c4 -4 8 -7 13 -8c-3 4 -8 7 -13 8z" fill="#f6eea0"/><path d="M858.5 680.5h12" stroke="#a8d0ee" stroke-width="3" stroke-linecap="round"/><g fill="none" stroke="#b6b1f0" stroke-width="3.2"><path d="M884.5 674h15v8h-15z M884.5 678h15 M892 682.5v3 M883.5 686h17.5 M887.5 687.5l1.5 3.5 M896.5 687.5l-1.5 3.5 M881.7 691.3h20.7"/><path d="M910.5 678l1.5 5 M918.5 677l-1.5 5 M914.5 673.5v11l-5 7.5 M914.5 684.5l5 6.5 M922.5 679v12.5h12v-12.5 M928.5 673.5v18"/><path d="M940.5 676.5h17v11.5h-17z M940.5 682.3h17 M949 673.5v15c0 2 1 3 3 3h10.5v-3"/><path d="M971 674.8h18l-8 5.5 M981 680v11.5l-3 -0.5 M968.5 683.5h26"/></g><text x="859.4" y="703.5" class="mono" font-size="15" fill="#f8b8e0" textLength="133.6" lengthAdjust="spacingAndGlyphs">www.szyucan.com</text>
</svg>
</body></html>
